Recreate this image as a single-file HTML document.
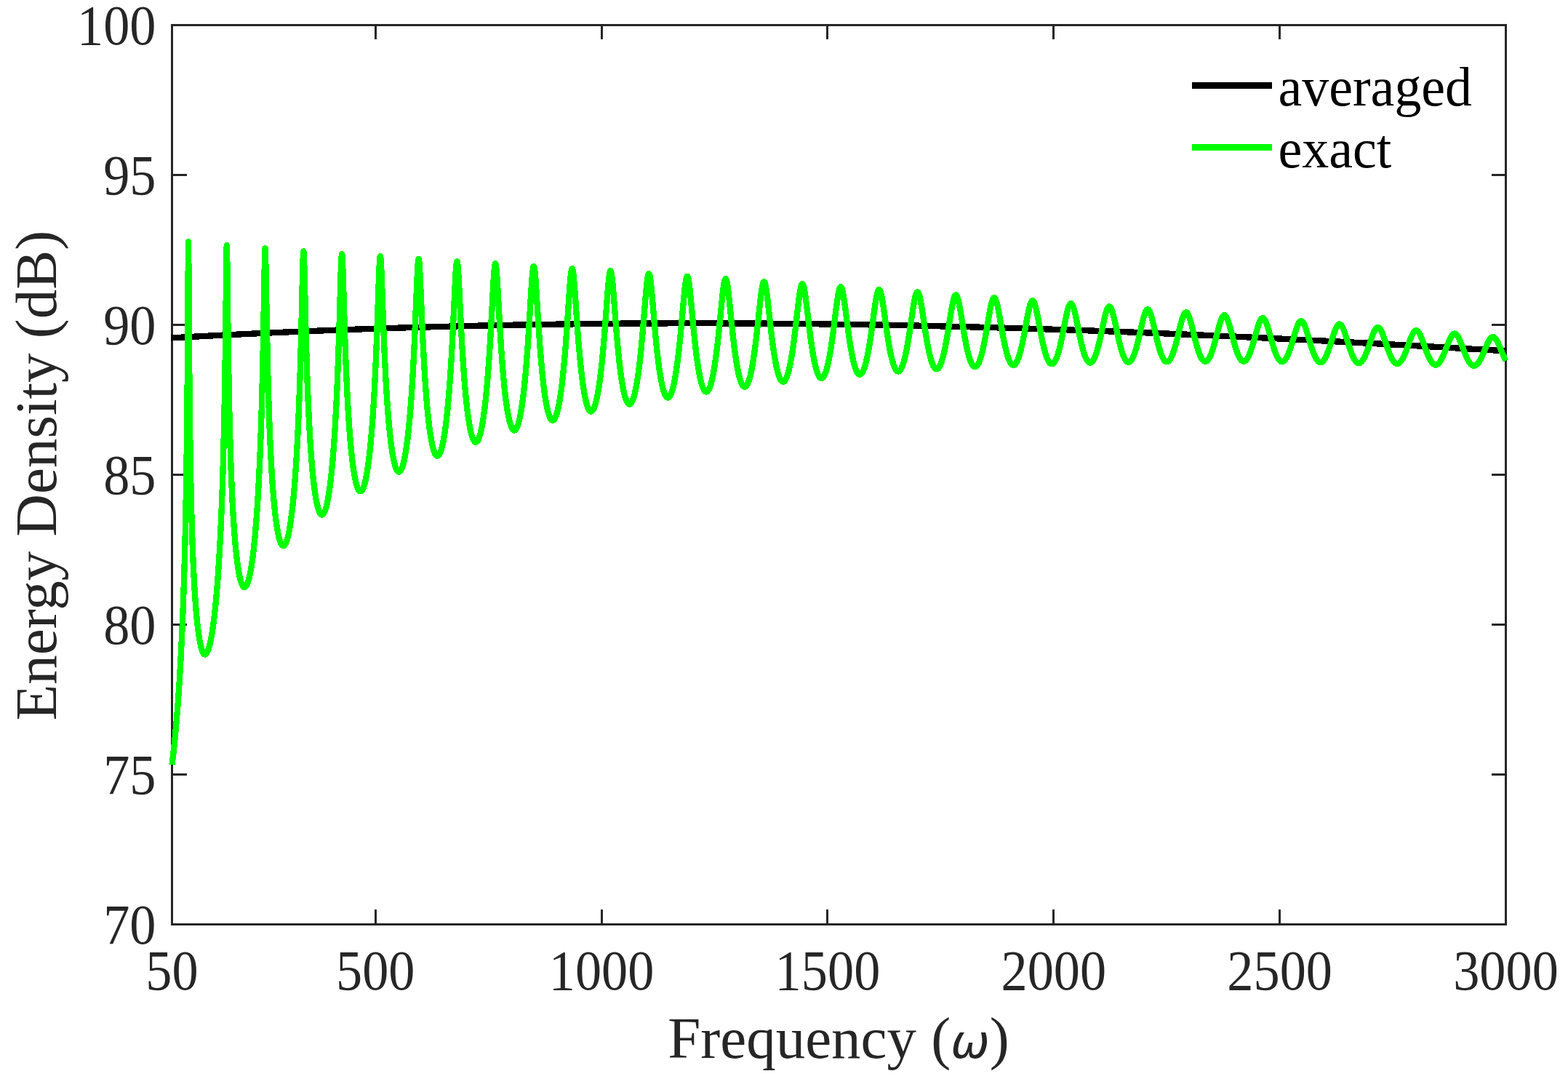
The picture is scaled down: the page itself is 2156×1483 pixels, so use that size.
<!DOCTYPE html>
<html lang="en"><head><meta charset="utf-8"><title>Energy Density vs Frequency</title>
<style>
html,body{margin:0;padding:0;background:#fff;}
body{width:2156px;height:1483px;overflow:hidden;}
svg{display:block;}
text{font-family:"Liberation Serif","DejaVu Serif",serif;}
.tk{font-size:77.8px;fill:#262626;}
.lb{font-size:81.0px;fill:#262626;}
.lg{font-size:76.8px;fill:#000;}
.ax{stroke:#262626;stroke-width:3;fill:none;shape-rendering:crispEdges;}
.cv{fill:none;stroke-linejoin:round;stroke-linecap:butt;shape-rendering:crispEdges;}
</style></head><body>
<svg width="2156" height="1483" viewBox="0 0 2156 1483">
<rect width="2156" height="1483" fill="#fff"/>
<rect class="ax" x="236.5" y="34.5" width="1834.0" height="1236.0"/>
<path class="ax" d="M516.5,1270.5V1250M516.5,34.5V54M827.5,1270.5V1250M827.5,34.5V54M1137.5,1270.5V1250M1137.5,34.5V54M1448.5,1270.5V1250M1448.5,34.5V54M1759.5,1270.5V1250M1759.5,34.5V54M236.5,1064.5H257M2070.5,1064.5H2051M236.5,858.5H257M2070.5,858.5H2051M236.5,652.5H257M2070.5,652.5H2051M236.5,446.5H257M2070.5,446.5H2051M236.5,240.5H257M2070.5,240.5H2051"/>
<path class="cv" d="M235.00,464.46L244.22,463.94L253.45,463.43L262.67,462.93L271.89,462.43L281.12,461.93L290.34,461.45L299.57,460.97L308.79,460.50L318.01,460.03L327.24,459.57L336.46,459.12L345.68,458.68L354.91,458.24L364.13,457.81L373.35,457.38L382.58,456.97L391.80,456.56L401.03,456.15L410.25,455.76L419.47,455.37L428.70,454.98L437.92,454.61L447.14,454.24L456.37,453.88L465.59,453.52L474.81,453.17L484.04,452.83L493.26,452.49L502.48,452.17L511.71,451.84L520.93,451.53L530.16,451.22L539.38,450.92L548.60,450.63L557.83,450.34L567.05,450.06L576.27,449.78L585.50,449.52L594.72,449.26L603.94,449.00L613.17,448.76L622.39,448.52L631.62,448.28L640.84,448.06L650.06,447.84L659.29,447.62L668.51,447.42L677.73,447.22L686.96,447.02L696.18,446.84L705.40,446.66L714.63,446.48L723.85,446.32L733.08,446.16L742.30,446.01L751.52,445.86L760.75,445.72L769.97,445.59L779.19,445.46L788.42,445.34L797.64,445.23L806.86,445.12L816.09,445.02L825.31,444.92L834.54,444.84L843.76,444.76L852.98,444.68L862.21,444.61L871.43,444.55L880.65,444.50L889.88,444.45L899.10,444.41L908.32,444.37L917.55,444.34L926.77,444.32L935.99,444.30L945.22,444.29L954.44,444.29L963.67,444.29L972.89,444.30L982.11,444.32L991.34,444.34L1000.56,444.36L1009.78,444.40L1019.01,444.44L1028.23,444.48L1037.45,444.53L1046.68,444.59L1055.90,444.66L1065.13,444.73L1074.35,444.80L1083.57,444.89L1092.80,444.97L1102.02,445.07L1111.24,445.17L1120.47,445.28L1129.69,445.39L1138.91,445.51L1148.14,445.63L1157.36,445.76L1166.59,445.90L1175.81,446.04L1185.03,446.18L1194.26,446.34L1203.48,446.50L1212.70,446.66L1221.93,446.83L1231.15,447.01L1240.37,447.19L1249.60,447.38L1258.82,447.57L1268.05,447.77L1277.27,447.97L1286.49,448.18L1295.72,448.39L1304.94,448.61L1314.16,448.84L1323.39,449.07L1332.61,449.31L1341.83,449.55L1351.06,449.79L1360.28,450.05L1369.51,450.30L1378.73,450.57L1387.95,450.83L1397.18,451.11L1406.40,451.38L1415.62,451.67L1424.85,451.96L1434.07,452.25L1443.29,452.55L1452.52,452.85L1461.74,453.16L1470.96,453.47L1480.19,453.79L1489.41,454.11L1498.64,454.44L1507.86,454.77L1517.08,455.10L1526.31,455.45L1535.53,455.79L1544.75,456.14L1553.98,456.50L1563.20,456.86L1572.42,457.22L1581.65,457.59L1590.87,457.96L1600.10,458.34L1609.32,458.72L1618.54,459.10L1627.77,459.49L1636.99,459.89L1646.21,460.29L1655.44,460.69L1664.66,461.09L1673.88,461.51L1683.11,461.92L1692.33,462.34L1701.56,462.76L1710.78,463.19L1720.00,463.62L1729.23,464.05L1738.45,464.49L1747.67,464.93L1756.90,465.38L1766.12,465.82L1775.34,466.28L1784.57,466.73L1793.79,467.19L1803.02,467.65L1812.24,468.12L1821.46,468.59L1830.69,469.06L1839.91,469.54L1849.13,470.02L1858.36,470.50L1867.58,470.99L1876.80,471.47L1886.03,471.97L1895.25,472.46L1904.47,472.96L1913.70,473.46L1922.92,473.96L1932.15,474.47L1941.37,474.98L1950.59,475.49L1959.82,476.00L1969.04,476.52L1978.26,477.04L1987.49,477.56L1996.71,478.09L2005.93,478.61L2015.16,479.14L2024.38,479.68L2033.61,480.21L2042.83,480.75L2052.05,481.28L2061.28,481.82L2070.50,482.37" stroke="#000" stroke-width="8.33"/>
<path class="cv" d="M236.50,1051.00L236.81,1048.52L237.12,1045.99L237.43,1043.41L237.74,1040.78L238.05,1038.10L238.37,1035.37L238.68,1032.58L238.99,1029.74L239.30,1026.84L239.61,1023.89L239.92,1020.88L240.23,1017.80L240.54,1014.67L240.85,1011.47L241.16,1008.21L241.47,1004.88L241.78,1001.48L242.10,998.00L242.41,994.46L242.72,990.84L243.03,987.14L243.34,983.37L243.65,979.51L243.96,975.56L244.27,971.53L244.58,967.40L244.89,963.18L245.20,958.85L245.51,954.43L245.83,949.90L246.14,945.25L246.45,940.49L246.76,935.61L247.07,930.60L247.38,925.46L247.69,920.17L248.00,914.75L248.31,909.16L248.62,903.42L248.93,897.50L249.24,891.40L249.56,885.11L249.87,878.61L250.18,871.90L250.49,864.95L250.80,857.76L251.11,850.31L251.42,842.56L251.73,834.51L252.04,826.13L252.35,817.39L252.66,808.25L252.97,798.68L253.29,788.63L253.60,778.06L253.91,766.91L254.22,755.10L254.53,742.56L254.84,729.19L255.15,714.86L255.46,699.42L255.77,682.70L256.08,664.44L256.39,644.35L256.71,622.01L257.02,596.87L257.33,568.16L257.64,534.80L257.95,495.31L258.26,447.90L258.57,392.48L258.86,344.25L258.88,342.07L258.96,335.33L259.01,332.87L259.05,332.17L259.09,332.87L259.14,335.33L259.19,339.40L259.24,344.13L259.50,386.62L259.81,440.37L260.12,486.27L260.44,524.18L260.75,555.85L261.06,582.82L261.37,606.17L261.68,626.68L261.99,644.92L262.30,661.30L262.61,676.14L262.92,689.67L263.23,702.09L263.54,713.54L263.85,724.16L264.17,734.03L264.48,743.24L264.79,751.86L265.10,759.95L265.41,767.56L265.72,774.74L266.03,781.51L266.34,787.92L266.65,794.00L266.96,799.76L267.27,805.23L267.58,810.43L267.90,815.37L268.21,820.08L268.52,824.57L268.83,828.85L269.14,832.93L269.45,836.83L269.76,840.55L270.07,844.10L270.38,847.49L270.69,850.72L271.00,853.81L271.31,856.76L271.63,859.58L271.94,862.27L272.25,864.84L272.56,867.29L272.87,869.62L273.18,871.84L273.49,873.96L273.80,875.97L274.11,877.88L274.42,879.70L274.73,881.42L275.05,883.05L275.36,884.59L275.67,886.05L275.98,887.42L276.29,888.70L276.60,889.91L276.91,891.04L277.22,892.09L277.53,893.06L277.84,893.96L278.15,894.79L278.46,895.55L278.78,896.23L279.09,896.85L279.40,897.40L279.71,897.88L280.02,898.29L280.33,898.64L280.64,898.93L280.95,899.15L281.26,899.30L281.57,899.40L281.88,899.43L282.19,899.38L282.51,899.26L282.82,899.09L283.13,898.86L283.44,898.56L283.75,898.21L284.06,897.80L284.37,897.33L284.68,896.80L284.99,896.21L285.30,895.57L285.61,894.87L285.92,894.10L286.24,893.28L286.55,892.40L286.86,891.46L287.17,890.47L287.48,889.41L287.79,888.30L288.10,887.12L288.41,885.88L288.72,884.59L289.03,883.23L289.34,881.81L289.65,880.33L289.97,878.79L290.28,877.18L290.59,875.51L290.90,873.77L291.21,871.97L291.52,870.10L291.83,868.17L292.14,866.16L292.45,864.09L292.76,861.95L293.07,859.73L293.39,857.44L293.70,855.08L294.01,852.64L294.32,850.12L294.63,847.52L294.94,844.84L295.25,842.08L295.56,839.23L295.87,836.30L296.18,833.27L296.49,830.16L296.80,826.94L297.12,823.63L297.43,820.22L297.74,816.71L298.05,813.08L298.36,809.35L298.67,805.50L298.98,801.53L299.29,797.44L299.60,793.21L299.91,788.86L300.22,784.36L300.53,779.71L300.85,774.91L301.16,769.95L301.47,764.83L301.78,759.52L302.09,754.03L302.40,748.34L302.71,742.44L303.02,736.32L303.33,729.96L303.64,723.35L303.95,716.47L304.26,709.31L304.58,701.84L304.89,694.03L305.20,685.87L305.51,677.31L305.82,668.33L306.13,658.89L306.44,648.93L306.75,638.42L307.06,627.27L307.37,615.43L307.68,602.82L307.99,589.32L308.31,574.82L308.62,559.19L308.93,542.26L309.24,523.83L309.55,503.68L309.86,481.58L310.17,457.33L310.48,430.90L310.79,402.75L311.10,374.61L311.41,350.66L311.63,340.29L311.72,337.96L311.73,337.85L311.77,337.34L311.81,337.17L311.86,337.35L311.91,337.97L312.00,340.30L312.04,341.64L312.35,359.94L312.66,385.68L312.97,413.13L313.28,439.49L313.59,463.80L313.90,485.92L314.21,505.97L314.52,524.19L314.83,540.80L315.14,556.02L315.46,570.02L315.77,582.96L316.08,594.97L316.39,606.14L316.70,616.58L317.01,626.36L317.32,635.55L317.63,644.20L317.94,652.37L318.25,660.09L318.56,667.40L318.87,674.34L319.19,680.94L319.50,687.21L319.81,693.18L320.12,698.88L320.43,704.32L320.74,709.51L321.05,714.48L321.36,719.22L321.67,723.77L321.98,728.12L322.29,732.29L322.60,736.29L322.92,740.12L323.23,743.79L323.54,747.31L323.85,750.69L324.16,753.93L324.47,757.04L324.78,760.02L325.09,762.88L325.40,765.62L325.71,768.24L326.02,770.76L326.33,773.17L326.65,775.48L326.96,777.68L327.27,779.79L327.58,781.81L327.89,783.73L328.20,785.56L328.51,787.31L328.82,788.97L329.13,790.55L329.44,792.04L329.75,793.46L330.07,794.80L330.38,796.06L330.69,797.25L331.00,798.37L331.31,799.41L331.62,800.38L331.93,801.28L332.24,802.11L332.55,802.88L332.86,803.58L333.17,804.21L333.48,804.77L333.80,805.27L334.11,805.71L334.42,806.09L334.73,806.40L335.04,806.64L335.35,806.83L335.66,806.96L335.97,807.02L336.28,807.02L336.59,806.97L336.90,806.85L337.21,806.67L337.53,806.43L337.84,806.13L338.15,805.77L338.46,805.35L338.77,804.88L339.08,804.34L339.39,803.74L339.70,803.08L340.01,802.36L340.32,801.58L340.63,800.74L340.94,799.84L341.26,798.87L341.57,797.85L341.88,796.76L342.19,795.61L342.50,794.39L342.81,793.11L343.12,791.77L343.43,790.36L343.74,788.88L344.05,787.34L344.36,785.73L344.67,784.05L344.99,782.30L345.30,780.48L345.61,778.59L345.92,776.63L346.23,774.59L346.54,772.47L346.85,770.28L347.16,768.01L347.47,765.66L347.78,763.22L348.09,760.70L348.41,758.10L348.72,755.40L349.03,752.62L349.34,749.74L349.65,746.77L349.96,743.69L350.27,740.52L350.58,737.24L350.89,733.85L351.20,730.35L351.51,726.74L351.82,723.00L352.14,719.14L352.45,715.15L352.76,711.03L353.07,706.77L353.38,702.36L353.69,697.79L354.00,693.07L354.31,688.18L354.62,683.11L354.93,677.86L355.24,672.42L355.55,666.77L355.87,660.90L356.18,654.80L356.49,648.46L356.80,641.85L357.11,634.97L357.42,627.79L357.73,620.30L358.04,612.46L358.35,604.25L358.66,595.64L358.97,586.61L359.28,577.10L359.60,567.08L359.91,556.51L360.22,545.32L360.53,533.47L360.84,520.89L361.15,507.51L361.46,493.26L361.77,478.08L362.08,461.92L362.39,444.78L362.70,426.73L363.01,408.03L363.33,389.21L363.64,371.27L363.95,355.87L364.26,345.16L364.39,342.62L364.48,341.57L364.53,341.30L364.57,341.22L364.57,341.22L364.62,341.30L364.67,341.56L364.76,342.60L364.88,344.88L365.19,355.22L365.50,370.15L365.81,387.50L366.12,405.68L366.43,423.71L366.75,441.05L367.06,457.49L367.37,472.94L367.68,487.41L367.99,500.96L368.30,513.64L368.61,525.53L368.92,536.69L369.23,547.19L369.54,557.07L369.85,566.41L370.16,575.23L370.48,583.59L370.79,591.51L371.10,599.05L371.41,606.21L371.72,613.03L372.03,619.53L372.34,625.74L372.65,631.67L372.96,637.35L373.27,642.77L373.58,647.97L373.89,652.95L374.21,657.73L374.52,662.31L374.83,666.71L375.14,670.93L375.45,674.99L375.76,678.88L376.07,682.62L376.38,686.22L376.69,689.68L377.00,693.00L377.31,696.19L377.62,699.26L377.94,702.21L378.25,705.04L378.56,707.76L378.87,710.37L379.18,712.88L379.49,715.29L379.80,717.59L380.11,719.80L380.42,721.92L380.73,723.95L381.04,725.89L381.35,727.74L381.67,729.51L381.98,731.19L382.29,732.79L382.60,734.32L382.91,735.76L383.22,737.14L383.53,738.43L383.84,739.65L384.15,740.81L384.46,741.88L384.77,742.89L385.09,743.83L385.40,744.71L385.71,745.51L386.02,746.25L386.33,746.93L386.64,747.53L386.95,748.08L387.26,748.56L387.57,748.98L387.88,749.33L388.19,749.62L388.50,749.85L388.82,750.02L389.13,750.13L389.44,750.18L389.75,750.16L390.06,750.09L390.37,749.95L390.68,749.76L390.99,749.50L391.30,749.19L391.61,748.81L391.92,748.37L392.23,747.88L392.55,747.32L392.86,746.70L393.17,746.02L393.48,745.28L393.79,744.48L394.10,743.61L394.41,742.68L394.72,741.69L395.03,740.64L395.34,739.52L395.65,738.34L395.96,737.09L396.28,735.78L396.59,734.40L396.90,732.96L397.21,731.44L397.52,729.86L397.83,728.21L398.14,726.48L398.45,724.69L398.76,722.82L399.07,720.87L399.38,718.85L399.69,716.75L400.01,714.57L400.32,712.32L400.63,709.98L400.94,707.55L401.25,705.04L401.56,702.44L401.87,699.75L402.18,696.97L402.49,694.09L402.80,691.11L403.11,688.04L403.43,684.85L403.74,681.57L404.05,678.17L404.36,674.65L404.67,671.02L404.98,667.26L405.29,663.38L405.60,659.36L405.91,655.21L406.22,650.91L406.53,646.47L406.84,641.86L407.16,637.10L407.47,632.16L407.78,627.05L408.09,621.74L408.40,616.24L408.71,610.53L409.02,604.60L409.33,598.44L409.64,592.03L409.95,585.36L410.26,578.42L410.57,571.18L410.89,563.62L411.20,555.73L411.51,547.49L411.82,538.86L412.13,529.82L412.44,520.35L412.75,510.41L413.06,499.99L413.37,489.04L413.68,477.55L413.99,465.51L414.30,452.90L414.62,439.77L414.93,426.17L415.24,412.24L415.55,398.23L415.86,384.49L416.17,371.62L416.48,360.38L416.79,351.70L417.10,346.49L417.15,346.04L417.24,345.46L417.29,345.31L417.34,345.27L417.38,345.31L417.41,345.40L417.43,345.47L417.52,346.04L417.72,348.54L418.03,355.45L418.35,365.30L418.66,377.14L418.97,390.11L419.28,403.56L419.59,417.06L419.90,430.30L420.21,443.13L420.52,455.44L420.83,467.20L421.14,478.40L421.45,489.06L421.77,499.18L422.08,508.80L422.39,517.95L422.70,526.65L423.01,534.93L423.32,542.82L423.63,550.34L423.94,557.52L424.25,564.38L424.56,570.94L424.87,577.21L425.18,583.21L425.50,588.97L425.81,594.49L426.12,599.78L426.43,604.86L426.74,609.73L427.05,614.42L427.36,618.92L427.67,623.25L427.98,627.42L428.29,631.42L428.60,635.28L428.91,638.98L429.23,642.55L429.54,645.98L429.85,649.29L430.16,652.47L430.47,655.53L430.78,658.47L431.09,661.31L431.40,664.03L431.71,666.65L432.02,669.16L432.33,671.58L432.64,673.90L432.96,676.13L433.27,678.27L433.58,680.31L433.89,682.27L434.20,684.15L434.51,685.94L434.82,687.65L435.13,689.29L435.44,690.84L435.75,692.32L436.06,693.72L436.37,695.05L436.69,696.31L437.00,697.50L437.31,698.61L437.62,699.66L437.93,700.64L438.24,701.55L438.55,702.40L438.86,703.18L439.17,703.89L439.48,704.54L439.79,705.13L440.11,705.65L440.42,706.12L440.73,706.51L441.04,706.85L441.35,707.13L441.66,707.35L441.97,707.50L442.28,707.60L442.59,707.63L442.90,707.60L443.21,707.52L443.52,707.37L443.84,707.17L444.15,706.90L444.46,706.58L444.77,706.19L445.08,705.75L445.39,705.24L445.70,704.68L446.01,704.05L446.32,703.36L446.63,702.61L446.94,701.80L447.25,700.93L447.57,700.00L447.88,699.00L448.19,697.94L448.50,696.82L448.81,695.63L449.12,694.37L449.43,693.05L449.74,691.67L450.05,690.21L450.36,688.69L450.67,687.10L450.98,685.43L451.30,683.70L451.61,681.89L451.92,680.01L452.23,678.05L452.54,676.02L452.85,673.91L453.16,671.72L453.47,669.45L453.78,667.09L454.09,664.65L454.40,662.12L454.71,659.50L455.03,656.79L455.34,653.99L455.65,651.09L455.96,648.09L456.27,644.99L456.58,641.79L456.89,638.47L457.20,635.04L457.51,631.50L457.82,627.84L458.13,624.05L458.45,620.14L458.76,616.09L459.07,611.90L459.38,607.57L459.69,603.09L460.00,598.46L460.31,593.66L460.62,588.69L460.93,583.54L461.24,578.20L461.55,572.67L461.86,566.94L462.18,560.99L462.49,554.81L462.80,548.39L463.11,541.73L463.42,534.80L463.73,527.60L464.04,520.10L464.35,512.30L464.66,504.18L464.97,495.73L465.28,486.93L465.59,477.78L465.91,468.26L466.22,458.39L466.53,448.17L466.84,437.63L467.15,426.81L467.46,415.81L467.77,404.73L468.08,393.77L468.39,383.18L468.70,373.29L469.01,364.53L469.32,357.35L469.64,352.25L469.91,349.75L469.95,349.60L470.01,349.39L470.06,349.30L470.10,349.27L470.14,349.30L470.19,349.39L470.26,349.62L470.29,349.76L470.57,352.29L470.88,357.36L471.19,364.43L471.50,373.02L471.81,382.66L472.12,392.95L472.43,403.56L472.74,414.25L473.05,424.86L473.37,435.25L473.68,445.37L473.99,455.16L474.30,464.60L474.61,473.68L474.92,482.39L475.23,490.76L475.54,498.78L475.85,506.47L476.16,513.84L476.47,520.91L476.79,527.69L477.10,534.20L477.41,540.44L477.72,546.44L478.03,552.20L478.34,557.74L478.65,563.06L478.96,568.18L479.27,573.11L479.58,577.85L479.89,582.41L480.20,586.81L480.52,591.04L480.83,595.12L481.14,599.04L481.45,602.83L481.76,606.48L482.07,609.99L482.38,613.38L482.69,616.64L483.00,619.79L483.31,622.82L483.62,625.73L483.93,628.54L484.25,631.25L484.56,633.85L484.87,636.36L485.18,638.77L485.49,641.08L485.80,643.31L486.11,645.44L486.42,647.49L486.73,649.45L487.04,651.33L487.35,653.13L487.66,654.85L487.98,656.49L488.29,658.06L488.60,659.55L488.91,660.97L489.22,662.31L489.53,663.58L489.84,664.79L490.15,665.92L490.46,666.99L490.77,667.98L491.08,668.92L491.39,669.78L491.71,670.58L492.02,671.32L492.33,671.99L492.64,672.60L492.95,673.15L493.26,673.63L493.57,674.06L493.88,674.42L494.19,674.72L494.50,674.96L494.81,675.14L495.13,675.26L495.44,675.32L495.75,675.32L496.06,675.26L496.37,675.15L496.68,674.97L496.99,674.73L497.30,674.43L497.61,674.07L497.92,673.66L498.23,673.18L498.54,672.64L498.86,672.05L499.17,671.39L499.48,670.67L499.79,669.89L500.10,669.05L500.41,668.15L500.72,667.18L501.03,666.15L501.34,665.06L501.65,663.90L501.96,662.68L502.27,661.39L502.59,660.04L502.90,658.62L503.21,657.13L503.52,655.57L503.83,653.95L504.14,652.25L504.45,650.48L504.76,648.63L505.07,646.72L505.38,644.72L505.69,642.65L506.00,640.50L506.32,638.27L506.63,635.96L506.94,633.56L507.25,631.08L507.56,628.51L507.87,625.85L508.18,623.10L508.49,620.25L508.80,617.31L509.11,614.27L509.42,611.12L509.73,607.87L510.05,604.51L510.36,601.03L510.67,597.45L510.98,593.74L511.29,589.90L511.60,585.94L511.91,581.85L512.22,577.62L512.53,573.25L512.84,568.73L513.15,564.05L513.47,559.22L513.78,554.22L514.09,549.04L514.40,543.69L514.71,538.15L515.02,532.41L515.33,526.47L515.64,520.32L515.95,513.95L516.26,507.35L516.57,500.51L516.88,493.43L517.20,486.11L517.51,478.52L517.82,470.68L518.13,462.59L518.44,454.24L518.75,445.66L519.06,436.86L519.37,427.88L519.68,418.78L519.99,409.61L520.30,400.49L520.61,391.55L520.93,382.95L521.24,374.92L521.55,367.71L521.86,361.58L522.17,356.82L522.48,353.68L522.68,352.61L522.77,352.35L522.79,352.32L522.82,352.29L522.86,352.27L522.91,352.29L522.96,352.35L523.05,352.61L523.10,352.82L523.41,355.15L523.72,359.14L524.03,364.58L524.34,371.19L524.66,378.69L524.97,386.83L525.28,395.37L525.59,404.13L525.90,412.98L526.21,421.79L526.52,430.49L526.83,439.02L527.14,447.35L527.45,455.45L527.76,463.29L528.07,470.89L528.39,478.22L528.70,485.30L529.01,492.13L529.32,498.72L529.63,505.06L529.94,511.18L530.25,517.07L530.56,522.76L530.87,528.23L531.18,533.51L531.49,538.60L531.81,543.50L532.12,548.23L532.43,552.80L532.74,557.20L533.05,561.44L533.36,565.54L533.67,569.49L533.98,573.31L534.29,576.99L534.60,580.54L534.91,583.96L535.22,587.27L535.54,590.46L535.85,593.53L536.16,596.50L536.47,599.36L536.78,602.11L537.09,604.77L537.40,607.33L537.71,609.79L538.02,612.16L538.33,614.44L538.64,616.63L538.95,618.74L539.27,620.76L539.58,622.70L539.89,624.56L540.20,626.34L540.51,628.04L540.82,629.67L541.13,631.22L541.44,632.70L541.75,634.10L542.06,635.44L542.37,636.70L542.68,637.90L543.00,639.03L543.31,640.09L543.62,641.09L543.93,642.02L544.24,642.88L544.55,643.69L544.86,644.43L545.17,645.10L545.48,645.72L545.79,646.27L546.10,646.76L546.41,647.19L546.73,647.56L547.04,647.87L547.35,648.12L547.66,648.31L547.97,648.44L548.28,648.51L548.59,648.53L548.90,648.48L549.21,648.38L549.52,648.21L549.83,647.99L550.15,647.71L550.46,647.37L550.77,646.97L551.08,646.51L551.39,646.00L551.70,645.42L552.01,644.78L552.32,644.08L552.63,643.33L552.94,642.51L553.25,641.63L553.56,640.69L553.88,639.68L554.19,638.61L554.50,637.48L554.81,636.29L555.12,635.03L555.43,633.71L555.74,632.32L556.05,630.86L556.36,629.33L556.67,627.74L556.98,626.08L557.29,624.34L557.61,622.54L557.92,620.66L558.23,618.70L558.54,616.67L558.85,614.56L559.16,612.38L559.47,610.11L559.78,607.76L560.09,605.33L560.40,602.81L560.71,600.21L561.02,597.51L561.34,594.72L561.65,591.84L561.96,588.87L562.27,585.79L562.58,582.61L562.89,579.33L563.20,575.94L563.51,572.44L563.82,568.82L564.13,565.09L564.44,561.23L564.75,557.25L565.07,553.14L565.38,548.90L565.69,544.52L566.00,540.00L566.31,535.33L566.62,530.51L566.93,525.53L567.24,520.39L567.55,515.08L567.86,509.60L568.17,503.94L568.49,498.10L568.80,492.08L569.11,485.86L569.42,479.46L569.73,472.86L570.04,466.07L570.35,459.09L570.66,451.93L570.97,444.60L571.28,437.12L571.59,429.51L571.90,421.81L572.22,414.07L572.53,406.34L572.84,398.70L573.15,391.25L573.46,384.12L573.77,377.44L574.08,371.37L574.39,366.09L574.70,361.77L575.01,358.56L575.32,356.60L575.44,356.22L575.53,356.03L575.58,355.98L575.62,355.97L575.63,355.97L575.67,355.98L575.72,356.03L575.81,356.21L575.95,356.69L576.26,358.73L576.57,361.98L576.88,366.31L577.19,371.55L577.50,377.53L577.81,384.09L578.12,391.05L578.43,398.30L578.74,405.71L579.05,413.20L579.36,420.68L579.68,428.10L579.99,435.42L580.30,442.60L580.61,449.63L580.92,456.48L581.23,463.16L581.54,469.64L581.85,475.93L582.16,482.02L582.47,487.93L582.78,493.64L583.09,499.18L583.41,504.53L583.72,509.70L584.03,514.71L584.34,519.55L584.65,524.23L584.96,528.75L585.27,533.12L585.58,537.35L585.89,541.43L586.20,545.38L586.51,549.20L586.83,552.89L587.14,556.45L587.45,559.90L587.76,563.23L588.07,566.44L588.38,569.54L588.69,572.54L589.00,575.44L589.31,578.23L589.62,580.92L589.93,583.52L590.24,586.03L590.56,588.44L590.87,590.77L591.18,593.00L591.49,595.16L591.80,597.23L592.11,599.22L592.42,601.13L592.73,602.96L593.04,604.71L593.35,606.39L593.66,607.99L593.97,609.53L594.29,610.99L594.60,612.38L594.91,613.70L595.22,614.95L595.53,616.14L595.84,617.25L596.15,618.31L596.46,619.30L596.77,620.22L597.08,621.08L597.39,621.88L597.70,622.61L598.02,623.28L598.33,623.90L598.64,624.45L598.95,624.94L599.26,625.37L599.57,625.74L599.88,626.05L600.19,626.30L600.50,626.50L600.81,626.63L601.12,626.71L601.43,626.73L601.75,626.69L602.06,626.59L602.37,626.43L602.68,626.22L602.99,625.95L603.30,625.62L603.61,625.23L603.92,624.78L604.23,624.27L604.54,623.70L604.85,623.08L605.17,622.39L605.48,621.65L605.79,620.84L606.10,619.98L606.41,619.05L606.72,618.06L607.03,617.01L607.34,615.90L607.65,614.73L607.96,613.49L608.27,612.18L608.58,610.81L608.90,609.38L609.21,607.88L609.52,606.31L609.83,604.67L610.14,602.96L610.45,601.18L610.76,599.33L611.07,597.41L611.38,595.41L611.69,593.33L612.00,591.18L612.31,588.96L612.63,586.65L612.94,584.26L613.25,581.78L613.56,579.22L613.87,576.58L614.18,573.85L614.49,571.02L614.80,568.10L615.11,565.09L615.42,561.98L615.73,558.77L616.04,555.46L616.36,552.04L616.67,548.51L616.98,544.88L617.29,541.13L617.60,537.26L617.91,533.27L618.22,529.16L618.53,524.92L618.84,520.55L619.15,516.05L619.46,511.42L619.77,506.64L620.09,501.72L620.40,496.65L620.71,491.44L621.02,486.07L621.33,480.56L621.64,474.89L621.95,469.07L622.26,463.10L622.57,456.99L622.88,450.74L623.19,444.36L623.51,437.87L623.82,431.28L624.13,424.62L624.44,417.92L624.75,411.22L625.06,404.57L625.37,398.03L625.68,391.68L625.99,385.60L626.30,379.89L626.61,374.65L626.92,370.01L627.24,366.07L627.55,362.96L627.86,360.75L628.17,359.52L628.20,359.46L628.29,359.32L628.34,359.28L628.39,359.27L628.43,359.28L628.48,359.32L628.57,359.45L628.79,360.13L629.10,361.94L629.41,364.67L629.72,368.24L630.03,372.53L630.34,377.44L630.65,382.84L630.97,388.64L631.28,394.72L631.59,400.99L631.90,407.40L632.21,413.86L632.52,420.33L632.83,426.77L633.14,433.15L633.45,439.43L633.76,445.60L634.07,451.64L634.38,457.55L634.70,463.31L635.01,468.93L635.32,474.40L635.63,479.71L635.94,484.87L636.25,489.88L636.56,494.75L636.87,499.46L637.18,504.04L637.49,508.47L637.80,512.77L638.11,516.93L638.43,520.96L638.74,524.87L639.05,528.65L639.36,532.31L639.67,535.85L639.98,539.28L640.29,542.60L640.60,545.81L640.91,548.91L641.22,551.92L641.53,554.82L641.85,557.62L642.16,560.33L642.47,562.94L642.78,565.47L643.09,567.90L643.40,570.25L643.71,572.51L644.02,574.69L644.33,576.79L644.64,578.81L644.95,580.75L645.26,582.62L645.58,584.40L645.89,586.12L646.20,587.76L646.51,589.33L646.82,590.83L647.13,592.26L647.44,593.62L647.75,594.91L648.06,596.14L648.37,597.30L648.68,598.39L648.99,599.43L649.31,600.39L649.62,601.30L649.93,602.14L650.24,602.93L650.55,603.65L650.86,604.31L651.17,604.91L651.48,605.45L651.79,605.93L652.10,606.35L652.41,606.71L652.72,607.02L653.04,607.27L653.35,607.46L653.66,607.59L653.97,607.66L654.28,607.68L654.59,607.64L654.90,607.54L655.21,607.38L655.52,607.17L655.83,606.90L656.14,606.57L656.45,606.19L656.77,605.75L657.08,605.25L657.39,604.69L657.70,604.07L658.01,603.39L658.32,602.66L658.63,601.86L658.94,601.01L659.25,600.10L659.56,599.12L659.87,598.09L660.19,596.99L660.50,595.83L660.81,594.61L661.12,593.33L661.43,591.98L661.74,590.57L662.05,589.09L662.36,587.54L662.67,585.93L662.98,584.25L663.29,582.50L663.60,580.68L663.92,578.79L664.23,576.83L664.54,574.79L664.85,572.68L665.16,570.49L665.47,568.23L665.78,565.89L666.09,563.46L666.40,560.96L666.71,558.37L667.02,555.70L667.33,552.94L667.65,550.09L667.96,547.15L668.27,544.11L668.58,540.99L668.89,537.76L669.20,534.44L669.51,531.02L669.82,527.49L670.13,523.86L670.44,520.12L670.75,516.27L671.06,512.31L671.38,508.23L671.69,504.04L672.00,499.72L672.31,495.29L672.62,490.74L672.93,486.06L673.24,481.26L673.55,476.33L673.86,471.28L674.17,466.11L674.48,460.82L674.79,455.42L675.11,449.90L675.42,444.29L675.73,438.59L676.04,432.81L676.35,426.97L676.66,421.10L676.97,415.22L677.28,409.37L677.59,403.58L677.90,397.91L678.21,392.40L678.53,387.13L678.84,382.17L679.15,377.58L679.46,373.46L679.77,369.87L680.08,366.91L680.39,364.63L680.70,363.10L680.96,362.41L681.01,362.35L681.05,362.31L681.10,362.28L681.15,362.27L681.19,362.28L681.24,362.31L681.32,362.40L681.33,362.41L681.63,363.25L681.94,364.87L682.26,367.21L682.57,370.22L682.88,373.82L683.19,377.93L683.50,382.47L683.81,387.36L684.12,392.53L684.43,397.90L684.74,403.43L685.05,409.05L685.36,414.72L685.67,420.40L685.99,426.07L686.30,431.69L686.61,437.24L686.92,442.72L687.23,448.10L687.54,453.37L687.85,458.54L688.16,463.59L688.47,468.52L688.78,473.32L689.09,478.01L689.40,482.57L689.72,487.00L690.03,491.31L690.34,495.51L690.65,499.58L690.96,503.53L691.27,507.37L691.58,511.10L691.89,514.71L692.20,518.21L692.51,521.61L692.82,524.91L693.13,528.10L693.45,531.19L693.76,534.18L694.07,537.08L694.38,539.88L694.69,542.59L695.00,545.22L695.31,547.75L695.62,550.20L695.93,552.56L696.24,554.84L696.55,557.05L696.87,559.17L697.18,561.21L697.49,563.18L697.80,565.07L698.11,566.89L698.42,568.63L698.73,570.31L699.04,571.91L699.35,573.44L699.66,574.91L699.97,576.31L700.28,577.64L700.60,578.90L700.91,580.11L701.22,581.24L701.53,582.32L701.84,583.33L702.15,584.28L702.46,585.17L702.77,585.99L703.08,586.76L703.39,587.47L703.70,588.12L704.01,588.71L704.33,589.24L704.64,589.71L704.95,590.12L705.26,590.48L705.57,590.78L705.88,591.02L706.19,591.21L706.50,591.34L706.81,591.41L707.12,591.43L707.43,591.39L707.74,591.29L708.06,591.14L708.37,590.93L708.68,590.66L708.99,590.34L709.30,589.96L709.61,589.53L709.92,589.03L710.23,588.49L710.54,587.88L710.85,587.21L711.16,586.49L711.47,585.71L711.79,584.87L712.10,583.97L712.41,583.02L712.72,582.00L713.03,580.92L713.34,579.78L713.65,578.58L713.96,577.32L714.27,576.00L714.58,574.61L714.89,573.16L715.21,571.64L715.52,570.06L715.83,568.41L716.14,566.70L716.45,564.92L716.76,563.06L717.07,561.14L717.38,559.15L717.69,557.08L718.00,554.95L718.31,552.73L718.62,550.45L718.94,548.08L719.25,545.64L719.56,543.11L719.87,540.51L720.18,537.82L720.49,535.05L720.80,532.19L721.11,529.25L721.42,526.22L721.73,523.10L722.04,519.88L722.35,516.57L722.67,513.17L722.98,509.67L723.29,506.07L723.60,502.38L723.91,498.58L724.22,494.68L724.53,490.68L724.84,486.57L725.15,482.36L725.46,478.05L725.77,473.63L726.08,469.11L726.40,464.49L726.71,459.78L727.02,454.97L727.33,450.07L727.64,445.09L727.95,440.04L728.26,434.93L728.57,429.77L728.88,424.58L729.19,419.37L729.50,414.18L729.81,409.03L730.13,403.95L730.44,398.98L730.75,394.16L731.06,389.55L731.37,385.19L731.68,381.13L731.99,377.44L732.30,374.18L732.61,371.40L732.92,369.14L733.23,367.47L733.55,366.41L733.72,366.09L733.82,366.00L733.86,365.98L733.87,365.98L733.91,365.97L733.95,365.98L734.00,366.00L734.10,366.09L734.17,366.19L734.48,367.04L734.79,368.50L735.10,370.54L735.41,373.11L735.72,376.17L736.03,379.67L736.34,383.53L736.65,387.70L736.96,392.13L737.28,396.77L737.59,401.56L737.90,406.47L738.21,411.45L738.52,416.47L738.83,421.51L739.14,426.54L739.45,431.53L739.76,436.48L740.07,441.37L740.38,446.19L740.69,450.93L741.01,455.58L741.32,460.14L741.63,464.60L741.94,468.96L742.25,473.22L742.56,477.38L742.87,481.43L743.18,485.38L743.49,489.22L743.80,492.97L744.11,496.61L744.42,500.15L744.74,503.59L745.05,506.93L745.36,510.18L745.67,513.33L745.98,516.38L746.29,519.35L746.60,522.23L746.91,525.01L747.22,527.71L747.53,530.33L747.84,532.86L748.15,535.30L748.47,537.67L748.78,539.96L749.09,542.17L749.40,544.30L749.71,546.36L750.02,548.34L750.33,550.25L750.64,552.08L750.95,553.85L751.26,555.55L751.57,557.18L751.89,558.74L752.20,560.23L752.51,561.66L752.82,563.02L753.13,564.31L753.44,565.55L753.75,566.72L754.06,567.83L754.37,568.87L754.68,569.86L754.99,570.79L755.30,571.65L755.62,572.46L755.93,573.21L756.24,573.90L756.55,574.53L756.86,575.10L757.17,575.62L757.48,576.08L757.79,576.48L758.10,576.83L758.41,577.12L758.72,577.35L759.03,577.53L759.35,577.65L759.66,577.72L759.97,577.73L760.28,577.68L760.59,577.58L760.90,577.43L761.21,577.22L761.52,576.95L761.83,576.63L762.14,576.25L762.45,575.82L762.76,575.33L763.08,574.79L763.39,574.19L763.70,573.53L764.01,572.81L764.32,572.04L764.63,571.21L764.94,570.32L765.25,569.38L765.56,568.37L765.87,567.31L766.18,566.19L766.49,565.01L766.81,563.76L767.12,562.46L767.43,561.09L767.74,559.66L768.05,558.17L768.36,556.62L768.67,555.00L768.98,553.31L769.29,551.56L769.60,549.75L769.91,547.86L770.23,545.91L770.54,543.88L770.85,541.79L771.16,539.63L771.47,537.39L771.78,535.08L772.09,532.69L772.40,530.23L772.71,527.69L773.02,525.07L773.33,522.38L773.64,519.60L773.96,516.75L774.27,513.81L774.58,510.78L774.89,507.67L775.20,504.48L775.51,501.20L775.82,497.83L776.13,494.37L776.44,490.83L776.75,487.19L777.06,483.47L777.37,479.65L777.69,475.75L778.00,471.76L778.31,467.68L778.62,463.52L778.93,459.27L779.24,454.95L779.55,450.55L779.86,446.09L780.17,441.56L780.48,436.99L780.79,432.37L781.10,427.72L781.42,423.05L781.73,418.39L782.04,413.75L782.35,409.16L782.66,404.64L782.97,400.22L783.28,395.94L783.59,391.83L783.90,387.94L784.21,384.30L784.52,380.96L784.83,377.95L785.15,375.34L785.46,373.15L785.77,371.41L786.08,370.17L786.39,369.43L786.48,369.31L786.58,369.24L786.63,369.23L786.67,369.22L786.70,369.22L786.71,369.23L786.76,369.24L786.86,369.31L787.01,369.53L787.32,370.36L787.63,371.69L787.94,373.50L788.25,375.75L788.57,378.40L788.88,381.42L789.19,384.76L789.50,388.38L789.81,392.23L790.12,396.27L790.43,400.47L790.74,404.79L791.05,409.20L791.36,413.66L791.67,418.16L791.98,422.68L792.30,427.18L792.61,431.67L792.92,436.12L793.23,440.52L793.54,444.87L793.85,449.15L794.16,453.36L794.47,457.49L794.78,461.55L795.09,465.52L795.40,469.41L795.71,473.21L796.03,476.92L796.34,480.54L796.65,484.07L796.96,487.52L797.27,490.87L797.58,494.14L797.89,497.31L798.20,500.40L798.51,503.41L798.82,506.33L799.13,509.16L799.44,511.92L799.76,514.59L800.07,517.18L800.38,519.69L800.69,522.12L801.00,524.48L801.31,526.76L801.62,528.96L801.93,531.09L802.24,533.15L802.55,535.14L802.86,537.05L803.17,538.90L803.49,540.68L803.80,542.39L804.11,544.03L804.42,545.61L804.73,547.12L805.04,548.57L805.35,549.95L805.66,551.27L805.97,552.53L806.28,553.73L806.59,554.87L806.91,555.94L807.22,556.96L807.53,557.92L807.84,558.82L808.15,559.66L808.46,560.44L808.77,561.16L809.08,561.83L809.39,562.45L809.70,563.00L810.01,563.50L810.32,563.95L810.64,564.34L810.95,564.67L811.26,564.95L811.57,565.17L811.88,565.34L812.19,565.46L812.50,565.52L812.81,565.53L813.12,565.48L813.43,565.38L813.74,565.22L814.05,565.01L814.37,564.75L814.68,564.43L814.99,564.05L815.30,563.62L815.61,563.14L815.92,562.60L816.23,562.01L816.54,561.36L816.85,560.66L817.16,559.90L817.47,559.08L817.78,558.21L818.10,557.28L818.41,556.30L818.72,555.25L819.03,554.15L819.34,552.99L819.65,551.77L819.96,550.49L820.27,549.15L820.58,547.75L820.89,546.29L821.20,544.77L821.51,543.19L821.83,541.54L822.14,539.83L822.45,538.05L822.76,536.21L823.07,534.30L823.38,532.33L823.69,530.29L824.00,528.18L824.31,526.00L824.62,523.76L824.93,521.44L825.25,519.05L825.56,516.58L825.87,514.05L826.18,511.44L826.49,508.75L826.80,505.99L827.11,503.15L827.42,500.23L827.73,497.24L828.04,494.17L828.35,491.02L828.66,487.79L828.98,484.48L829.29,481.10L829.60,477.63L829.91,474.09L830.22,470.47L830.53,466.77L830.84,463.00L831.15,459.16L831.46,455.26L831.77,451.28L832.08,447.25L832.39,443.17L832.71,439.04L833.02,434.87L833.33,430.67L833.64,426.45L833.95,422.23L834.26,418.02L834.57,413.84L834.88,409.70L835.19,405.64L835.50,401.66L835.81,397.81L836.12,394.11L836.44,390.58L836.75,387.27L837.06,384.21L837.37,381.43L837.68,378.96L837.99,376.84L838.30,375.09L838.61,373.74L838.92,372.81L839.23,372.31L839.24,372.30L839.34,372.24L839.39,372.22L839.43,372.22L839.47,372.22L839.52,372.24L839.54,372.25L839.62,372.30L839.85,372.63L840.17,373.44L840.48,374.67L840.79,376.30L841.10,378.30L841.41,380.65L841.72,383.32L842.03,386.26L842.34,389.45L842.65,392.85L842.96,396.43L843.27,400.16L843.59,404.02L843.90,407.96L844.21,411.97L844.52,416.04L844.83,420.12L845.14,424.22L845.45,428.32L845.76,432.39L846.07,436.44L846.38,440.45L846.69,444.41L847.00,448.32L847.32,452.17L847.63,455.95L847.94,459.67L848.25,463.32L848.56,466.89L848.87,470.39L849.18,473.81L849.49,477.15L849.80,480.42L850.11,483.60L850.42,486.71L850.73,489.74L851.05,492.69L851.36,495.56L851.67,498.35L851.98,501.07L852.29,503.71L852.60,506.28L852.91,508.77L853.22,511.18L853.53,513.52L853.84,515.79L854.15,517.99L854.46,520.12L854.78,522.18L855.09,524.17L855.40,526.09L855.71,527.95L856.02,529.73L856.33,531.46L856.64,533.11L856.95,534.71L857.26,536.24L857.57,537.70L857.88,539.11L858.19,540.45L858.51,541.73L858.82,542.96L859.13,544.12L859.44,545.22L859.75,546.27L860.06,547.26L860.37,548.19L860.68,549.06L860.99,549.88L861.30,550.64L861.61,551.34L861.93,551.99L862.24,552.58L862.55,553.12L862.86,553.60L863.17,554.03L863.48,554.40L863.79,554.73L864.10,554.99L864.41,555.21L864.72,555.36L865.03,555.47L865.34,555.52L865.66,555.52L865.97,555.47L866.28,555.36L866.59,555.20L866.90,554.99L867.21,554.72L867.52,554.40L867.83,554.03L868.14,553.60L868.45,553.12L868.76,552.59L869.07,552.00L869.39,551.36L869.70,550.66L870.01,549.91L870.32,549.11L870.63,548.24L870.94,547.33L871.25,546.36L871.56,545.33L871.87,544.24L872.18,543.10L872.49,541.90L872.80,540.64L873.12,539.33L873.43,537.96L873.74,536.52L874.05,535.03L874.36,533.48L874.67,531.87L874.98,530.19L875.29,528.45L875.60,526.66L875.91,524.79L876.22,522.87L876.53,520.88L876.85,518.82L877.16,516.70L877.47,514.52L877.78,512.26L878.09,509.94L878.40,507.56L878.71,505.10L879.02,502.57L879.33,499.98L879.64,497.31L879.95,494.58L880.27,491.77L880.58,488.90L880.89,485.95L881.20,482.94L881.51,479.85L881.82,476.70L882.13,473.47L882.44,470.18L882.75,466.82L883.06,463.40L883.37,459.92L883.68,456.38L884.00,452.78L884.31,449.13L884.62,445.43L884.93,441.69L885.24,437.92L885.55,434.12L885.86,430.30L886.17,426.48L886.48,422.65L886.79,418.85L887.10,415.07L887.41,411.34L887.73,407.68L888.04,404.10L888.35,400.63L888.66,397.29L888.97,394.10L889.28,391.10L889.59,388.30L889.90,385.73L890.21,383.43L890.52,381.40L890.83,379.69L891.14,378.30L891.46,377.26L891.77,376.57L892.00,376.30L892.08,376.25L892.10,376.25L892.15,376.23L892.19,376.23L892.23,376.23L892.28,376.25L892.38,376.30L892.39,376.31L892.70,376.72L893.01,377.51L893.32,378.64L893.63,380.11L893.94,381.89L894.25,383.97L894.56,386.31L894.87,388.91L895.19,391.72L895.50,394.72L895.81,397.88L896.12,401.19L896.43,404.61L896.74,408.13L897.05,411.72L897.36,415.37L897.67,419.05L897.98,422.75L898.29,426.47L898.61,430.18L898.92,433.88L899.23,437.55L899.54,441.19L899.85,444.79L900.16,448.35L900.47,451.86L900.78,455.31L901.09,458.71L901.40,462.05L901.71,465.32L902.02,468.53L902.34,471.67L902.65,474.74L902.96,477.74L903.27,480.68L903.58,483.54L903.89,486.34L904.20,489.06L904.51,491.72L904.82,494.30L905.13,496.81L905.44,499.26L905.75,501.64L906.07,503.94L906.38,506.18L906.69,508.36L907.00,510.46L907.31,512.50L907.62,514.48L907.93,516.39L908.24,518.23L908.55,520.02L908.86,521.73L909.17,523.39L909.48,524.99L909.80,526.52L910.11,527.99L910.42,529.41L910.73,530.76L911.04,532.05L911.35,533.29L911.66,534.47L911.97,535.59L912.28,536.66L912.59,537.66L912.90,538.62L913.21,539.51L913.53,540.35L913.84,541.14L914.15,541.87L914.46,542.55L914.77,543.17L915.08,543.74L915.39,544.26L915.70,544.72L916.01,545.13L916.32,545.49L916.63,545.79L916.95,546.04L917.26,546.24L917.57,546.39L917.88,546.48L918.19,546.53L918.50,546.52L918.81,546.46L919.12,546.35L919.43,546.18L919.74,545.96L920.05,545.70L920.36,545.37L920.68,545.00L920.99,544.58L921.30,544.10L921.61,543.57L921.92,542.99L922.23,542.35L922.54,541.66L922.85,540.92L923.16,540.13L923.47,539.28L923.78,538.38L924.09,537.42L924.41,536.41L924.72,535.34L925.03,534.22L925.34,533.04L925.65,531.81L925.96,530.52L926.27,529.17L926.58,527.77L926.89,526.31L927.20,524.79L927.51,523.22L927.82,521.58L928.14,519.89L928.45,518.13L928.76,516.32L929.07,514.45L929.38,512.51L929.69,510.51L930.00,508.45L930.31,506.33L930.62,504.15L930.93,501.90L931.24,499.59L931.55,497.22L931.87,494.78L932.18,492.28L932.49,489.72L932.80,487.09L933.11,484.40L933.42,481.64L933.73,478.82L934.04,475.94L934.35,473.00L934.66,470.00L934.97,466.94L935.29,463.82L935.60,460.65L935.91,457.43L936.22,454.15L936.53,450.83L936.84,447.47L937.15,444.06L937.46,440.63L937.77,437.17L938.08,433.69L938.39,430.20L938.70,426.71L939.02,423.23L939.33,419.76L939.64,416.33L939.95,412.94L940.26,409.61L940.57,406.36L940.88,403.21L941.19,400.17L941.50,397.26L941.81,394.51L942.12,391.93L942.43,389.55L942.75,387.38L943.06,385.45L943.37,383.78L943.68,382.38L943.99,381.27L944.30,380.46L944.61,379.96L944.76,379.83L944.86,379.78L944.91,379.77L944.92,379.77L944.95,379.77L944.99,379.77L945.04,379.78L945.14,379.83L945.23,379.90L945.54,380.34L945.85,381.09L946.16,382.14L946.48,383.47L946.79,385.08L947.10,386.94L947.41,389.03L947.72,391.34L948.03,393.84L948.34,396.51L948.65,399.33L948.96,402.29L949.27,405.35L949.58,408.51L949.89,411.74L950.21,415.04L950.52,418.37L950.83,421.74L951.14,425.12L951.45,428.51L951.76,431.90L952.07,435.27L952.38,438.62L952.69,441.95L953.00,445.25L953.31,448.50L953.63,451.72L953.94,454.88L954.25,458.00L954.56,461.06L954.87,464.07L955.18,467.02L955.49,469.92L955.80,472.75L956.11,475.52L956.42,478.23L956.73,480.88L957.04,483.46L957.36,485.98L957.67,488.44L957.98,490.83L958.29,493.16L958.60,495.43L958.91,497.63L959.22,499.77L959.53,501.85L959.84,503.87L960.15,505.82L960.46,507.71L960.77,509.54L961.09,511.31L961.40,513.02L961.71,514.68L962.02,516.27L962.33,517.80L962.64,519.28L962.95,520.69L963.26,522.05L963.57,523.36L963.88,524.60L964.19,525.79L964.50,526.93L964.82,528.01L965.13,529.03L965.44,530.01L965.75,530.92L966.06,531.78L966.37,532.59L966.68,533.35L966.99,534.05L967.30,534.70L967.61,535.30L967.92,535.85L968.23,536.34L968.55,536.78L968.86,537.17L969.17,537.51L969.48,537.80L969.79,538.04L970.10,538.23L970.41,538.36L970.72,538.45L971.03,538.48L971.34,538.46L971.65,538.40L971.97,538.28L972.28,538.11L972.59,537.89L972.90,537.62L973.21,537.30L973.52,536.93L973.83,536.51L974.14,536.03L974.45,535.51L974.76,534.93L975.07,534.31L975.38,533.63L975.70,532.90L976.01,532.12L976.32,531.28L976.63,530.40L976.94,529.46L977.25,528.47L977.56,527.42L977.87,526.32L978.18,525.17L978.49,523.97L978.80,522.71L979.11,521.39L979.43,520.02L979.74,518.60L980.05,517.12L980.36,515.58L980.67,513.99L980.98,512.34L981.29,510.64L981.60,508.88L981.91,507.06L982.22,505.18L982.53,503.25L982.84,501.26L983.16,499.21L983.47,497.10L983.78,494.93L984.09,492.70L984.40,490.42L984.71,488.07L985.02,485.67L985.33,483.21L985.64,480.70L985.95,478.12L986.26,475.49L986.57,472.81L986.89,470.07L987.20,467.27L987.51,464.43L987.82,461.53L988.13,458.59L988.44,455.60L988.75,452.57L989.06,449.50L989.37,446.40L989.68,443.26L989.99,440.10L990.31,436.92L990.62,433.73L990.93,430.53L991.24,427.33L991.55,424.14L991.86,420.98L992.17,417.84L992.48,414.75L992.79,411.71L993.10,408.74L993.41,405.86L993.72,403.08L994.04,400.41L994.35,397.87L994.66,395.49L994.97,393.27L995.28,391.23L995.59,389.40L995.90,387.78L996.21,386.39L996.52,385.24L996.83,384.35L997.14,383.72L997.45,383.36L997.52,383.32L997.62,383.28L997.67,383.27L997.71,383.27L997.75,383.27L997.77,383.27L997.80,383.28L997.90,383.32L998.08,383.46L998.39,383.91L998.70,384.63L999.01,385.61L999.32,386.83L999.63,388.29L999.94,389.97L1000.25,391.86L1000.56,393.93L1000.87,396.18L1001.18,398.58L1001.50,401.13L1001.81,403.79L1002.12,406.55L1002.43,409.41L1002.74,412.34L1003.05,415.33L1003.36,418.37L1003.67,421.44L1003.98,424.54L1004.29,427.65L1004.60,430.76L1004.91,433.87L1005.23,436.97L1005.54,440.06L1005.85,443.12L1006.16,446.14L1006.47,449.14L1006.78,452.10L1007.09,455.02L1007.40,457.89L1007.71,460.72L1008.02,463.49L1008.33,466.22L1008.65,468.90L1008.96,471.52L1009.27,474.08L1009.58,476.59L1009.89,479.04L1010.20,481.44L1010.51,483.78L1010.82,486.06L1011.13,488.28L1011.44,490.44L1011.75,492.54L1012.06,494.59L1012.38,496.58L1012.69,498.51L1013.00,500.38L1013.31,502.20L1013.62,503.95L1013.93,505.65L1014.24,507.30L1014.55,508.88L1014.86,510.41L1015.17,511.89L1015.48,513.31L1015.79,514.67L1016.11,515.98L1016.42,517.24L1016.73,518.44L1017.04,519.58L1017.35,520.68L1017.66,521.72L1017.97,522.70L1018.28,523.64L1018.59,524.52L1018.90,525.35L1019.21,526.13L1019.52,526.86L1019.84,527.53L1020.15,528.16L1020.46,528.73L1020.77,529.25L1021.08,529.72L1021.39,530.15L1021.70,530.52L1022.01,530.84L1022.32,531.11L1022.63,531.34L1022.94,531.51L1023.25,531.63L1023.57,531.71L1023.88,531.73L1024.19,531.70L1024.50,531.63L1024.81,531.51L1025.12,531.33L1025.43,531.11L1025.74,530.84L1026.05,530.51L1026.36,530.14L1026.67,529.72L1026.99,529.25L1027.30,528.73L1027.61,528.16L1027.92,527.53L1028.23,526.86L1028.54,526.14L1028.85,525.37L1029.16,524.55L1029.47,523.67L1029.78,522.75L1030.09,521.77L1030.40,520.74L1030.72,519.67L1031.03,518.54L1031.34,517.35L1031.65,516.12L1031.96,514.83L1032.27,513.49L1032.58,512.10L1032.89,510.65L1033.20,509.16L1033.51,507.60L1033.82,506.00L1034.13,504.34L1034.45,502.63L1034.76,500.86L1035.07,499.04L1035.38,497.16L1035.69,495.23L1036.00,493.25L1036.31,491.21L1036.62,489.12L1036.93,486.98L1037.24,484.78L1037.55,482.53L1037.86,480.22L1038.18,477.86L1038.49,475.46L1038.80,473.00L1039.11,470.49L1039.42,467.94L1039.73,465.33L1040.04,462.69L1040.35,460.00L1040.66,457.27L1040.97,454.50L1041.28,451.69L1041.59,448.86L1041.91,445.99L1042.22,443.11L1042.53,440.20L1042.84,437.28L1043.15,434.35L1043.46,431.41L1043.77,428.49L1044.08,425.57L1044.39,422.68L1044.70,419.82L1045.01,417.00L1045.33,414.23L1045.64,411.53L1045.95,408.90L1046.26,406.35L1046.57,403.91L1046.88,401.59L1047.19,399.39L1047.50,397.34L1047.81,395.44L1048.12,393.71L1048.43,392.16L1048.74,390.81L1049.06,389.67L1049.37,388.74L1049.68,388.03L1049.99,387.55L1050.28,387.31L1050.30,387.31L1050.38,387.28L1050.43,387.27L1050.47,387.27L1050.51,387.27L1050.56,387.28L1050.61,387.29L1050.66,387.31L1050.92,387.51L1051.23,387.97L1051.54,388.65L1051.85,389.55L1052.16,390.66L1052.47,391.97L1052.79,393.48L1053.10,395.17L1053.41,397.02L1053.72,399.02L1054.03,401.16L1054.34,403.43L1054.65,405.80L1054.96,408.28L1055.27,410.83L1055.58,413.46L1055.89,416.15L1056.20,418.89L1056.52,421.67L1056.83,424.47L1057.14,427.29L1057.45,430.13L1057.76,432.96L1058.07,435.80L1058.38,438.62L1058.69,441.43L1059.00,444.21L1059.31,446.98L1059.62,449.71L1059.93,452.41L1060.25,455.07L1060.56,457.70L1060.87,460.28L1061.18,462.82L1061.49,465.32L1061.80,467.77L1062.11,470.17L1062.42,472.52L1062.73,474.83L1063.04,477.08L1063.35,479.28L1063.67,481.42L1063.98,483.52L1064.29,485.56L1064.60,487.55L1064.91,489.48L1065.22,491.36L1065.53,493.19L1065.84,494.97L1066.15,496.69L1066.46,498.35L1066.77,499.97L1067.08,501.53L1067.40,503.04L1067.71,504.49L1068.02,505.90L1068.33,507.25L1068.64,508.55L1068.95,509.79L1069.26,510.99L1069.57,512.13L1069.88,513.22L1070.19,514.27L1070.50,515.26L1070.81,516.20L1071.13,517.09L1071.44,517.93L1071.75,518.72L1072.06,519.46L1072.37,520.15L1072.68,520.79L1072.99,521.39L1073.30,521.93L1073.61,522.43L1073.92,522.87L1074.23,523.27L1074.54,523.62L1074.86,523.92L1075.17,524.18L1075.48,524.38L1075.79,524.54L1076.10,524.65L1076.41,524.71L1076.72,524.73L1077.03,524.70L1077.34,524.62L1077.65,524.49L1077.96,524.31L1078.27,524.09L1078.59,523.81L1078.90,523.49L1079.21,523.13L1079.52,522.71L1079.83,522.25L1080.14,521.74L1080.45,521.18L1080.76,520.57L1081.07,519.91L1081.38,519.21L1081.69,518.45L1082.01,517.65L1082.32,516.80L1082.63,515.90L1082.94,514.95L1083.25,513.95L1083.56,512.91L1083.87,511.81L1084.18,510.66L1084.49,509.47L1084.80,508.22L1085.11,506.92L1085.42,505.57L1085.74,504.18L1086.05,502.73L1086.36,501.23L1086.67,499.68L1086.98,498.08L1087.29,496.43L1087.60,494.73L1087.91,492.98L1088.22,491.18L1088.53,489.33L1088.84,487.42L1089.15,485.47L1089.47,483.47L1089.78,481.42L1090.09,479.32L1090.40,477.17L1090.71,474.97L1091.02,472.73L1091.33,470.44L1091.64,468.11L1091.95,465.73L1092.26,463.32L1092.57,460.86L1092.88,458.36L1093.20,455.83L1093.51,453.27L1093.82,450.67L1094.13,448.05L1094.44,445.40L1094.75,442.74L1095.06,440.05L1095.37,437.36L1095.68,434.66L1095.99,431.96L1096.30,429.26L1096.61,426.58L1096.93,423.92L1097.24,421.29L1097.55,418.70L1097.86,416.15L1098.17,413.66L1098.48,411.23L1098.79,408.88L1099.10,406.62L1099.41,404.46L1099.72,402.42L1100.03,400.49L1100.35,398.70L1100.66,397.05L1100.97,395.57L1101.28,394.24L1101.59,393.10L1101.90,392.14L1102.21,391.37L1102.52,390.81L1102.83,390.44L1103.04,390.31L1103.14,390.28L1103.14,390.28L1103.19,390.27L1103.23,390.27L1103.27,390.27L1103.32,390.28L1103.42,390.31L1103.45,390.32L1103.76,390.57L1104.08,391.03L1104.39,391.68L1104.70,392.53L1105.01,393.57L1105.32,394.78L1105.63,396.16L1105.94,397.70L1106.25,399.40L1106.56,401.22L1106.87,403.18L1107.18,405.25L1107.49,407.42L1107.81,409.68L1108.12,412.02L1108.43,414.44L1108.74,416.91L1109.05,419.43L1109.36,421.98L1109.67,424.57L1109.98,427.18L1110.29,429.81L1110.60,432.45L1110.91,435.08L1111.22,437.71L1111.54,440.34L1111.85,442.94L1112.16,445.53L1112.47,448.10L1112.78,450.63L1113.09,453.14L1113.40,455.62L1113.71,458.06L1114.02,460.46L1114.33,462.83L1114.64,465.15L1114.95,467.43L1115.27,469.67L1115.58,471.86L1115.89,474.00L1116.20,476.10L1116.51,478.15L1116.82,480.15L1117.13,482.11L1117.44,484.01L1117.75,485.86L1118.06,487.67L1118.37,489.42L1118.69,491.13L1119.00,492.78L1119.31,494.38L1119.62,495.93L1119.93,497.44L1120.24,498.89L1120.55,500.29L1120.86,501.64L1121.17,502.94L1121.48,504.19L1121.79,505.40L1122.10,506.55L1122.42,507.65L1122.73,508.71L1123.04,509.71L1123.35,510.67L1123.66,511.57L1123.97,512.43L1124.28,513.24L1124.59,514.00L1124.90,514.72L1125.21,515.38L1125.52,516.00L1125.83,516.57L1126.15,517.09L1126.46,517.57L1126.77,517.99L1127.08,518.37L1127.39,518.71L1127.70,518.99L1128.01,519.23L1128.32,519.42L1128.63,519.57L1128.94,519.67L1129.25,519.72L1129.56,519.73L1129.88,519.69L1130.19,519.60L1130.50,519.46L1130.81,519.28L1131.12,519.06L1131.43,518.78L1131.74,518.46L1132.05,518.10L1132.36,517.68L1132.67,517.22L1132.98,516.71L1133.29,516.16L1133.61,515.56L1133.92,514.91L1134.23,514.22L1134.54,513.48L1134.85,512.69L1135.16,511.85L1135.47,510.97L1135.78,510.04L1136.09,509.06L1136.40,508.04L1136.71,506.96L1137.03,505.84L1137.34,504.68L1137.65,503.46L1137.96,502.20L1138.27,500.89L1138.58,499.53L1138.89,498.12L1139.20,496.66L1139.51,495.16L1139.82,493.61L1140.13,492.01L1140.44,490.37L1140.76,488.68L1141.07,486.94L1141.38,485.15L1141.69,483.32L1142.00,481.44L1142.31,479.52L1142.62,477.55L1142.93,475.54L1143.24,473.48L1143.55,471.39L1143.86,469.25L1144.17,467.07L1144.49,464.85L1144.80,462.60L1145.11,460.31L1145.42,457.98L1145.73,455.63L1146.04,453.25L1146.35,450.84L1146.66,448.40L1146.97,445.95L1147.28,443.48L1147.59,441.00L1147.90,438.51L1148.22,436.02L1148.53,433.53L1148.84,431.05L1149.15,428.58L1149.46,426.13L1149.77,423.71L1150.08,421.32L1150.39,418.98L1150.70,416.68L1151.01,414.45L1151.32,412.28L1151.63,410.20L1151.95,408.20L1152.26,406.30L1152.57,404.50L1152.88,402.82L1153.19,401.27L1153.50,399.85L1153.81,398.58L1154.12,397.46L1154.43,396.50L1154.74,395.70L1155.05,395.08L1155.37,394.63L1155.68,394.36L1155.80,394.30L1155.89,394.28L1155.94,394.27L1155.99,394.27L1155.99,394.27L1156.03,394.27L1156.08,394.28L1156.17,394.30L1156.30,394.36L1156.61,394.63L1156.92,395.08L1157.23,395.70L1157.54,396.49L1157.85,397.45L1158.16,398.56L1158.47,399.82L1158.78,401.23L1159.10,402.76L1159.41,404.42L1159.72,406.19L1160.03,408.06L1160.34,410.02L1160.65,412.07L1160.96,414.20L1161.27,416.39L1161.58,418.63L1161.89,420.93L1162.20,423.26L1162.51,425.63L1162.83,428.01L1163.14,430.42L1163.45,432.84L1163.76,435.26L1164.07,437.69L1164.38,440.10L1164.69,442.51L1165.00,444.91L1165.31,447.29L1165.62,449.64L1165.93,451.98L1166.24,454.28L1166.56,456.56L1166.87,458.80L1167.18,461.01L1167.49,463.19L1167.80,465.32L1168.11,467.42L1168.42,469.48L1168.73,471.50L1169.04,473.47L1169.35,475.40L1169.66,477.29L1169.97,479.13L1170.29,480.93L1170.60,482.68L1170.91,484.39L1171.22,486.05L1171.53,487.66L1171.84,489.22L1172.15,490.74L1172.46,492.22L1172.77,493.64L1173.08,495.02L1173.39,496.35L1173.71,497.63L1174.02,498.87L1174.33,500.06L1174.64,501.20L1174.95,502.30L1175.26,503.35L1175.57,504.35L1175.88,505.30L1176.19,506.21L1176.50,507.07L1176.81,507.88L1177.12,508.65L1177.44,509.38L1177.75,510.05L1178.06,510.68L1178.37,511.27L1178.68,511.80L1178.99,512.30L1179.30,512.74L1179.61,513.15L1179.92,513.50L1180.23,513.81L1180.54,514.08L1180.85,514.30L1181.17,514.47L1181.48,514.60L1181.79,514.69L1182.10,514.73L1182.41,514.72L1182.72,514.67L1183.03,514.58L1183.34,514.44L1183.65,514.25L1183.96,514.02L1184.27,513.75L1184.58,513.43L1184.90,513.06L1185.21,512.65L1185.52,512.20L1185.83,511.70L1186.14,511.15L1186.45,510.56L1186.76,509.93L1187.07,509.25L1187.38,508.52L1187.69,507.75L1188.00,506.93L1188.31,506.07L1188.63,505.17L1188.94,504.22L1189.25,503.22L1189.56,502.18L1189.87,501.09L1190.18,499.96L1190.49,498.78L1190.80,497.55L1191.11,496.29L1191.42,494.97L1191.73,493.61L1192.05,492.21L1192.36,490.76L1192.67,489.27L1192.98,487.73L1193.29,486.15L1193.60,484.53L1193.91,482.86L1194.22,481.15L1194.53,479.40L1194.84,477.60L1195.15,475.77L1195.46,473.89L1195.78,471.98L1196.09,470.03L1196.40,468.04L1196.71,466.01L1197.02,463.95L1197.33,461.86L1197.64,459.73L1197.95,457.58L1198.26,455.40L1198.57,453.19L1198.88,450.96L1199.19,448.71L1199.51,446.44L1199.82,444.17L1200.13,441.88L1200.44,439.58L1200.75,437.29L1201.06,434.99L1201.37,432.71L1201.68,430.44L1201.99,428.19L1202.30,425.96L1202.61,423.77L1202.92,421.61L1203.24,419.50L1203.55,417.44L1203.86,415.45L1204.17,413.52L1204.48,411.67L1204.79,409.90L1205.10,408.23L1205.41,406.66L1205.72,405.19L1206.03,403.85L1206.34,402.63L1206.65,401.54L1206.97,400.59L1207.28,399.78L1207.59,399.12L1207.90,398.61L1208.21,398.26L1208.52,398.06L1208.56,398.05L1208.65,398.03L1208.70,398.02L1208.75,398.02L1208.79,398.02L1208.83,398.03L1208.84,398.03L1208.93,398.05L1209.14,398.15L1209.45,398.43L1209.76,398.87L1210.07,399.45L1210.39,400.19L1210.70,401.07L1211.01,402.09L1211.32,403.24L1211.63,404.52L1211.94,405.91L1212.25,407.41L1212.56,409.02L1212.87,410.72L1213.18,412.50L1213.49,414.36L1213.80,416.29L1214.12,418.29L1214.43,420.33L1214.74,422.42L1215.05,424.55L1215.36,426.72L1215.67,428.91L1215.98,431.12L1216.29,433.34L1216.60,435.57L1216.91,437.81L1217.22,440.04L1217.53,442.27L1217.85,444.49L1218.16,446.70L1218.47,448.89L1218.78,451.06L1219.09,453.22L1219.40,455.34L1219.71,457.44L1220.02,459.51L1220.33,461.55L1220.64,463.55L1220.95,465.53L1221.26,467.46L1221.58,469.36L1221.89,471.22L1222.20,473.05L1222.51,474.83L1222.82,476.57L1223.13,478.28L1223.44,479.94L1223.75,481.55L1224.06,483.13L1224.37,484.66L1224.68,486.15L1224.99,487.59L1225.31,488.99L1225.62,490.35L1225.93,491.66L1226.24,492.93L1226.55,494.15L1226.86,495.33L1227.17,496.47L1227.48,497.56L1227.79,498.60L1228.10,499.60L1228.41,500.56L1228.73,501.47L1229.04,502.34L1229.35,503.16L1229.66,503.94L1229.97,504.67L1230.28,505.36L1230.59,506.01L1230.90,506.61L1231.21,507.17L1231.52,507.68L1231.83,508.15L1232.14,508.57L1232.46,508.95L1232.77,509.29L1233.08,509.58L1233.39,509.83L1233.70,510.04L1234.01,510.20L1234.32,510.32L1234.63,510.40L1234.94,510.43L1235.25,510.42L1235.56,510.36L1235.87,510.26L1236.19,510.12L1236.50,509.94L1236.81,509.71L1237.12,509.44L1237.43,509.12L1237.74,508.76L1238.05,508.36L1238.36,507.91L1238.67,507.42L1238.98,506.89L1239.29,506.31L1239.60,505.70L1239.92,505.03L1240.23,504.33L1240.54,503.58L1240.85,502.78L1241.16,501.95L1241.47,501.07L1241.78,500.14L1242.09,499.18L1242.40,498.17L1242.71,497.11L1243.02,496.02L1243.33,494.88L1243.65,493.70L1243.96,492.47L1244.27,491.20L1244.58,489.89L1244.89,488.54L1245.20,487.15L1245.51,485.71L1245.82,484.23L1246.13,482.72L1246.44,481.16L1246.75,479.56L1247.07,477.92L1247.38,476.24L1247.69,474.53L1248.00,472.78L1248.31,470.99L1248.62,469.16L1248.93,467.30L1249.24,465.41L1249.55,463.49L1249.86,461.54L1250.17,459.55L1250.48,457.55L1250.80,455.51L1251.11,453.46L1251.42,451.38L1251.73,449.29L1252.04,447.18L1252.35,445.06L1252.66,442.93L1252.97,440.80L1253.28,438.66L1253.59,436.53L1253.90,434.41L1254.21,432.30L1254.53,430.20L1254.84,428.13L1255.15,426.09L1255.46,424.09L1255.77,422.12L1256.08,420.20L1256.39,418.34L1256.70,416.53L1257.01,414.80L1257.32,413.14L1257.63,411.56L1257.94,410.07L1258.26,408.67L1258.57,407.38L1258.88,406.20L1259.19,405.13L1259.50,404.18L1259.81,403.36L1260.12,402.67L1260.43,402.11L1260.74,401.70L1261.05,401.42L1261.32,401.30L1261.36,401.28L1261.41,401.28L1261.46,401.27L1261.50,401.27L1261.55,401.27L1261.60,401.28L1261.67,401.29L1261.69,401.30L1261.99,401.44L1262.30,401.73L1262.61,402.16L1262.92,402.73L1263.23,403.43L1263.54,404.26L1263.85,405.21L1264.16,406.28L1264.47,407.47L1264.78,408.76L1265.09,410.15L1265.41,411.63L1265.72,413.20L1266.03,414.85L1266.34,416.57L1266.65,418.36L1266.96,420.20L1267.27,422.10L1267.58,424.04L1267.89,426.01L1268.20,428.02L1268.51,430.06L1268.82,432.11L1269.14,434.19L1269.45,436.27L1269.76,438.36L1270.07,440.45L1270.38,442.53L1270.69,444.62L1271.00,446.69L1271.31,448.75L1271.62,450.79L1271.93,452.81L1272.24,454.82L1272.55,456.80L1272.87,458.75L1273.18,460.68L1273.49,462.58L1273.80,464.45L1274.11,466.28L1274.42,468.09L1274.73,469.86L1275.04,471.59L1275.35,473.28L1275.66,474.94L1275.97,476.56L1276.28,478.14L1276.60,479.69L1276.91,481.19L1277.22,482.65L1277.53,484.07L1277.84,485.45L1278.15,486.79L1278.46,488.09L1278.77,489.34L1279.08,490.56L1279.39,491.73L1279.70,492.85L1280.01,493.94L1280.33,494.98L1280.64,495.98L1280.95,496.94L1281.26,497.86L1281.57,498.73L1281.88,499.56L1282.19,500.35L1282.50,501.09L1282.81,501.79L1283.12,502.45L1283.43,503.07L1283.75,503.64L1284.06,504.17L1284.37,504.66L1284.68,505.10L1284.99,505.51L1285.30,505.87L1285.61,506.19L1285.92,506.46L1286.23,506.70L1286.54,506.89L1286.85,507.04L1287.16,507.14L1287.48,507.21L1287.79,507.23L1288.10,507.21L1288.41,507.15L1288.72,507.04L1289.03,506.90L1289.34,506.71L1289.65,506.48L1289.96,506.21L1290.27,505.90L1290.58,505.54L1290.89,505.14L1291.21,504.70L1291.52,504.22L1291.83,503.70L1292.14,503.13L1292.45,502.53L1292.76,501.88L1293.07,501.19L1293.38,500.46L1293.69,499.69L1294.00,498.87L1294.31,498.01L1294.62,497.12L1294.94,496.18L1295.25,495.20L1295.56,494.18L1295.87,493.12L1296.18,492.01L1296.49,490.87L1296.80,489.69L1297.11,488.46L1297.42,487.20L1297.73,485.90L1298.04,484.56L1298.35,483.18L1298.67,481.76L1298.98,480.30L1299.29,478.81L1299.60,477.28L1299.91,475.71L1300.22,474.11L1300.53,472.48L1300.84,470.81L1301.15,469.11L1301.46,467.37L1301.77,465.61L1302.09,463.82L1302.40,462.00L1302.71,460.16L1303.02,458.29L1303.33,456.40L1303.64,454.49L1303.95,452.56L1304.26,450.62L1304.57,448.66L1304.88,446.70L1305.19,444.73L1305.50,442.75L1305.82,440.78L1306.13,438.81L1306.44,436.84L1306.75,434.89L1307.06,432.96L1307.37,431.05L1307.68,429.16L1307.99,427.30L1308.30,425.49L1308.61,423.71L1308.92,421.98L1309.23,420.31L1309.55,418.69L1309.86,417.14L1310.17,415.67L1310.48,414.27L1310.79,412.96L1311.10,411.73L1311.41,410.60L1311.72,409.57L1312.03,408.65L1312.34,407.84L1312.65,407.14L1312.96,406.56L1313.28,406.10L1313.59,405.77L1313.90,405.56L1314.07,405.49L1314.17,405.48L1314.21,405.47L1314.22,405.47L1314.26,405.47L1314.30,405.47L1314.35,405.48L1314.45,405.49L1314.52,405.51L1314.83,405.68L1315.14,405.98L1315.45,406.39L1315.76,406.93L1316.07,407.59L1316.38,408.36L1316.69,409.24L1317.01,410.23L1317.32,411.31L1317.63,412.50L1317.94,413.77L1318.25,415.13L1318.56,416.56L1318.87,418.07L1319.18,419.64L1319.49,421.27L1319.80,422.96L1320.11,424.69L1320.43,426.47L1320.74,428.28L1321.05,430.13L1321.36,432.00L1321.67,433.89L1321.98,435.80L1322.29,437.72L1322.60,439.65L1322.91,441.58L1323.22,443.52L1323.53,445.45L1323.84,447.37L1324.16,449.28L1324.47,451.18L1324.78,453.07L1325.09,454.94L1325.40,456.79L1325.71,458.61L1326.02,460.42L1326.33,462.20L1326.64,463.95L1326.95,465.67L1327.26,467.36L1327.57,469.03L1327.89,470.66L1328.20,472.25L1328.51,473.82L1328.82,475.34L1329.13,476.84L1329.44,478.29L1329.75,479.71L1330.06,481.09L1330.37,482.44L1330.68,483.74L1330.99,485.01L1331.30,486.24L1331.62,487.43L1331.93,488.58L1332.24,489.69L1332.55,490.76L1332.86,491.79L1333.17,492.78L1333.48,493.73L1333.79,494.64L1334.10,495.51L1334.41,496.33L1334.72,497.12L1335.03,497.87L1335.35,498.57L1335.66,499.24L1335.97,499.86L1336.28,500.44L1336.59,500.99L1336.90,501.49L1337.21,501.95L1337.52,502.37L1337.83,502.75L1338.14,503.09L1338.45,503.38L1338.77,503.64L1339.08,503.86L1339.39,504.03L1339.70,504.17L1340.01,504.26L1340.32,504.32L1340.63,504.33L1340.94,504.30L1341.25,504.23L1341.56,504.13L1341.87,503.98L1342.18,503.79L1342.50,503.56L1342.81,503.29L1343.12,502.98L1343.43,502.62L1343.74,502.23L1344.05,501.80L1344.36,501.33L1344.67,500.82L1344.98,500.27L1345.29,499.67L1345.60,499.04L1345.91,498.37L1346.23,497.66L1346.54,496.91L1346.85,496.12L1347.16,495.28L1347.47,494.41L1347.78,493.51L1348.09,492.56L1348.40,491.57L1348.71,490.54L1349.02,489.48L1349.33,488.38L1349.64,487.24L1349.96,486.06L1350.27,484.84L1350.58,483.59L1350.89,482.30L1351.20,480.98L1351.51,479.62L1351.82,478.22L1352.13,476.79L1352.44,475.33L1352.75,473.83L1353.06,472.31L1353.37,470.75L1353.69,469.16L1354.00,467.54L1354.31,465.90L1354.62,464.23L1354.93,462.53L1355.24,460.81L1355.55,459.07L1355.86,457.31L1356.17,455.53L1356.48,453.74L1356.79,451.93L1357.11,450.11L1357.42,448.28L1357.73,446.45L1358.04,444.61L1358.35,442.78L1358.66,440.95L1358.97,439.12L1359.28,437.31L1359.59,435.51L1359.90,433.73L1360.21,431.98L1360.52,430.25L1360.84,428.56L1361.15,426.91L1361.46,425.29L1361.77,423.73L1362.08,422.22L1362.39,420.76L1362.70,419.38L1363.01,418.06L1363.32,416.81L1363.63,415.64L1363.94,414.56L1364.25,413.57L1364.57,412.67L1364.88,411.86L1365.19,411.16L1365.50,410.56L1365.81,410.07L1366.12,409.69L1366.43,409.42L1366.74,409.26L1366.83,409.24L1366.92,409.23L1366.97,409.22L1367.02,409.22L1367.05,409.22L1367.06,409.22L1367.11,409.23L1367.20,409.24L1367.36,409.29L1367.67,409.47L1367.98,409.77L1368.30,410.17L1368.61,410.69L1368.92,411.31L1369.23,412.03L1369.54,412.85L1369.85,413.77L1370.16,414.77L1370.47,415.87L1370.78,417.04L1371.09,418.29L1371.40,419.61L1371.71,421.00L1372.03,422.45L1372.34,423.95L1372.65,425.51L1372.96,427.11L1373.27,428.74L1373.58,430.42L1373.89,432.12L1374.20,433.85L1374.51,435.60L1374.82,437.37L1375.13,439.15L1375.45,440.95L1375.76,442.74L1376.07,444.54L1376.38,446.34L1376.69,448.13L1377.00,449.91L1377.31,451.69L1377.62,453.45L1377.93,455.20L1378.24,456.93L1378.55,458.65L1378.86,460.34L1379.18,462.01L1379.49,463.66L1379.80,465.28L1380.11,466.87L1380.42,468.44L1380.73,469.97L1381.04,471.48L1381.35,472.96L1381.66,474.40L1381.97,475.81L1382.28,477.19L1382.59,478.53L1382.91,479.84L1383.22,481.11L1383.53,482.35L1383.84,483.55L1384.15,484.72L1384.46,485.85L1384.77,486.94L1385.08,487.99L1385.39,489.01L1385.70,489.99L1386.01,490.93L1386.32,491.83L1386.64,492.69L1386.95,493.52L1387.26,494.30L1387.57,495.05L1387.88,495.76L1388.19,496.43L1388.50,497.06L1388.81,497.65L1389.12,498.20L1389.43,498.71L1389.74,499.19L1390.05,499.62L1390.37,500.02L1390.68,500.38L1390.99,500.69L1391.30,500.97L1391.61,501.21L1391.92,501.41L1392.23,501.57L1392.54,501.70L1392.85,501.78L1393.16,501.82L1393.47,501.83L1393.79,501.79L1394.10,501.72L1394.41,501.61L1394.72,501.46L1395.03,501.27L1395.34,501.04L1395.65,500.77L1395.96,500.47L1396.27,500.12L1396.58,499.74L1396.89,499.32L1397.20,498.86L1397.52,498.36L1397.83,497.83L1398.14,497.25L1398.45,496.64L1398.76,495.99L1399.07,495.30L1399.38,494.57L1399.69,493.81L1400.00,493.01L1400.31,492.17L1400.62,491.29L1400.93,490.38L1401.25,489.43L1401.56,488.45L1401.87,487.42L1402.18,486.37L1402.49,485.27L1402.80,484.14L1403.11,482.98L1403.42,481.78L1403.73,480.55L1404.04,479.29L1404.35,477.99L1404.66,476.66L1404.98,475.30L1405.29,473.91L1405.60,472.49L1405.91,471.04L1406.22,469.57L1406.53,468.06L1406.84,466.53L1407.15,464.98L1407.46,463.41L1407.77,461.81L1408.08,460.19L1408.39,458.56L1408.71,456.90L1409.02,455.24L1409.33,453.56L1409.64,451.87L1409.95,450.18L1410.26,448.48L1410.57,446.77L1410.88,445.07L1411.19,443.37L1411.50,441.68L1411.81,440.00L1412.13,438.33L1412.44,436.68L1412.75,435.05L1413.06,433.45L1413.37,431.88L1413.68,430.34L1413.99,428.83L1414.30,427.37L1414.61,425.96L1414.92,424.60L1415.23,423.29L1415.54,422.05L1415.86,420.87L1416.17,419.76L1416.48,418.73L1416.79,417.77L1417.10,416.90L1417.41,416.11L1417.72,415.41L1418.03,414.81L1418.34,414.29L1418.65,413.88L1418.96,413.57L1419.27,413.35L1419.59,413.24L1419.68,413.22L1419.73,413.22L1419.77,413.22L1419.82,413.22L1419.87,413.22L1419.90,413.23L1419.96,413.24L1420.21,413.32L1420.52,413.51L1420.83,413.81L1421.14,414.20L1421.45,414.69L1421.76,415.28L1422.07,415.96L1422.38,416.72L1422.69,417.58L1423.00,418.51L1423.32,419.52L1423.63,420.61L1423.94,421.77L1424.25,422.99L1424.56,424.27L1424.87,425.61L1425.18,427.00L1425.49,428.44L1425.80,429.92L1426.11,431.44L1426.42,432.99L1426.73,434.57L1427.05,436.18L1427.36,437.81L1427.67,439.45L1427.98,441.11L1428.29,442.78L1428.60,444.45L1428.91,446.13L1429.22,447.81L1429.53,449.49L1429.84,451.16L1430.15,452.83L1430.47,454.48L1430.78,456.13L1431.09,457.76L1431.40,459.37L1431.71,460.96L1432.02,462.54L1432.33,464.09L1432.64,465.62L1432.95,467.13L1433.26,468.61L1433.57,470.06L1433.88,471.49L1434.20,472.89L1434.51,474.26L1434.82,475.60L1435.13,476.91L1435.44,478.18L1435.75,479.43L1436.06,480.64L1436.37,481.82L1436.68,482.96L1436.99,484.07L1437.30,485.15L1437.61,486.19L1437.93,487.19L1438.24,488.16L1438.55,489.09L1438.86,489.99L1439.17,490.85L1439.48,491.67L1439.79,492.46L1440.10,493.21L1440.41,493.92L1440.72,494.60L1441.03,495.23L1441.34,495.84L1441.66,496.40L1441.97,496.92L1442.28,497.41L1442.59,497.86L1442.90,498.28L1443.21,498.65L1443.52,498.99L1443.83,499.29L1444.14,499.55L1444.45,499.77L1444.76,499.96L1445.07,500.11L1445.39,500.22L1445.70,500.29L1446.01,500.33L1446.32,500.32L1446.63,500.28L1446.94,500.21L1447.25,500.09L1447.56,499.94L1447.87,499.75L1448.18,499.52L1448.49,499.25L1448.81,498.95L1449.12,498.61L1449.43,498.23L1449.74,497.82L1450.05,497.36L1450.36,496.87L1450.67,496.35L1450.98,495.79L1451.29,495.19L1451.60,494.55L1451.91,493.88L1452.22,493.17L1452.54,492.42L1452.85,491.64L1453.16,490.83L1453.47,489.98L1453.78,489.09L1454.09,488.17L1454.40,487.21L1454.71,486.22L1455.02,485.20L1455.33,484.14L1455.64,483.05L1455.95,481.93L1456.27,480.77L1456.58,479.59L1456.89,478.37L1457.20,477.12L1457.51,475.84L1457.82,474.54L1458.13,473.20L1458.44,471.84L1458.75,470.46L1459.06,469.05L1459.37,467.61L1459.68,466.15L1460.00,464.67L1460.31,463.18L1460.62,461.66L1460.93,460.12L1461.24,458.58L1461.55,457.01L1461.86,455.44L1462.17,453.86L1462.48,452.27L1462.79,450.67L1463.10,449.08L1463.41,447.48L1463.73,445.89L1464.04,444.31L1464.35,442.73L1464.66,441.17L1464.97,439.62L1465.28,438.09L1465.59,436.59L1465.90,435.11L1466.21,433.66L1466.52,432.25L1466.83,430.87L1467.15,429.54L1467.46,428.25L1467.77,427.01L1468.08,425.83L1468.39,424.71L1468.70,423.65L1469.01,422.65L1469.32,421.73L1469.63,420.88L1469.94,420.10L1470.25,419.41L1470.56,418.79L1470.88,418.27L1471.19,417.83L1471.50,417.48L1471.81,417.22L1472.12,417.05L1472.34,416.99L1472.43,416.97L1472.43,416.97L1472.48,416.97L1472.53,416.97L1472.57,416.97L1472.62,416.97L1472.71,416.99L1472.74,416.99L1473.05,417.10L1473.36,417.30L1473.67,417.60L1473.98,417.98L1474.29,418.45L1474.61,419.01L1474.92,419.65L1475.23,420.37L1475.54,421.16L1475.85,422.04L1476.16,422.98L1476.47,423.99L1476.78,425.06L1477.09,426.20L1477.40,427.39L1477.71,428.63L1478.02,429.92L1478.34,431.25L1478.65,432.62L1478.96,434.03L1479.27,435.46L1479.58,436.93L1479.89,438.42L1480.20,439.93L1480.51,441.46L1480.82,443.00L1481.13,444.55L1481.44,446.11L1481.75,447.67L1482.07,449.24L1482.38,450.80L1482.69,452.36L1483.00,453.92L1483.31,455.46L1483.62,457.00L1483.93,458.52L1484.24,460.03L1484.55,461.53L1484.86,463.00L1485.17,464.46L1485.49,465.89L1485.80,467.31L1486.11,468.70L1486.42,470.07L1486.73,471.41L1487.04,472.72L1487.35,474.01L1487.66,475.27L1487.97,476.51L1488.28,477.71L1488.59,478.88L1488.90,480.02L1489.22,481.13L1489.53,482.21L1489.84,483.26L1490.15,484.27L1490.46,485.25L1490.77,486.20L1491.08,487.12L1491.39,488.00L1491.70,488.84L1492.01,489.65L1492.32,490.43L1492.63,491.17L1492.95,491.88L1493.26,492.55L1493.57,493.19L1493.88,493.79L1494.19,494.35L1494.50,494.88L1494.81,495.38L1495.12,495.84L1495.43,496.26L1495.74,496.65L1496.05,497.00L1496.36,497.31L1496.68,497.59L1496.99,497.83L1497.30,498.04L1497.61,498.21L1497.92,498.34L1498.23,498.44L1498.54,498.50L1498.85,498.53L1499.16,498.52L1499.47,498.47L1499.78,498.39L1500.09,498.27L1500.41,498.12L1500.72,497.93L1501.03,497.71L1501.34,497.45L1501.65,497.15L1501.96,496.82L1502.27,496.45L1502.58,496.05L1502.89,495.61L1503.20,495.14L1503.51,494.63L1503.83,494.08L1504.14,493.51L1504.45,492.89L1504.76,492.25L1505.07,491.57L1505.38,490.85L1505.69,490.10L1506.00,489.32L1506.31,488.51L1506.62,487.66L1506.93,486.78L1507.24,485.87L1507.56,484.92L1507.87,483.95L1508.18,482.94L1508.49,481.90L1508.80,480.83L1509.11,479.74L1509.42,478.61L1509.73,477.46L1510.04,476.28L1510.35,475.07L1510.66,473.83L1510.97,472.58L1511.29,471.29L1511.60,469.99L1511.91,468.66L1512.22,467.31L1512.53,465.94L1512.84,464.56L1513.15,463.15L1513.46,461.74L1513.77,460.30L1514.08,458.86L1514.39,457.41L1514.70,455.94L1515.02,454.47L1515.33,453.00L1515.64,451.53L1515.95,450.05L1516.26,448.58L1516.57,447.12L1516.88,445.66L1517.19,444.22L1517.50,442.79L1517.81,441.37L1518.12,439.98L1518.43,438.61L1518.75,437.27L1519.06,435.96L1519.37,434.68L1519.68,433.44L1519.99,432.24L1520.30,431.08L1520.61,429.98L1520.92,428.92L1521.23,427.92L1521.54,426.98L1521.85,426.10L1522.17,425.29L1522.48,424.54L1522.79,423.86L1523.10,423.26L1523.41,422.73L1523.72,422.28L1524.03,421.91L1524.34,421.62L1524.65,421.41L1524.96,421.28L1525.09,421.25L1525.19,421.24L1525.24,421.24L1525.27,421.24L1525.28,421.24L1525.32,421.24L1525.37,421.24L1525.47,421.26L1525.58,421.28L1525.90,421.40L1526.21,421.61L1526.52,421.90L1526.83,422.27L1527.14,422.72L1527.45,423.24L1527.76,423.84L1528.07,424.51L1528.38,425.26L1528.69,426.07L1529.00,426.94L1529.31,427.88L1529.63,428.87L1529.94,429.92L1530.25,431.02L1530.56,432.17L1530.87,433.36L1531.18,434.59L1531.49,435.86L1531.80,437.16L1532.11,438.49L1532.42,439.85L1532.73,441.23L1533.04,442.63L1533.36,444.05L1533.67,445.49L1533.98,446.93L1534.29,448.38L1534.60,449.84L1534.91,451.30L1535.22,452.76L1535.53,454.21L1535.84,455.67L1536.15,457.12L1536.46,458.55L1536.77,459.98L1537.09,461.40L1537.40,462.80L1537.71,464.19L1538.02,465.56L1538.33,466.91L1538.64,468.25L1538.95,469.56L1539.26,470.85L1539.57,472.12L1539.88,473.36L1540.19,474.58L1540.51,475.77L1540.82,476.94L1541.13,478.08L1541.44,479.19L1541.75,480.27L1542.06,481.33L1542.37,482.35L1542.68,483.35L1542.99,484.31L1543.30,485.24L1543.61,486.14L1543.92,487.01L1544.24,487.85L1544.55,488.65L1544.86,489.43L1545.17,490.17L1545.48,490.87L1545.79,491.54L1546.10,492.18L1546.41,492.79L1546.72,493.36L1547.03,493.90L1547.34,494.40L1547.65,494.87L1547.97,495.31L1548.28,495.71L1548.59,496.07L1548.90,496.41L1549.21,496.70L1549.52,496.96L1549.83,497.19L1550.14,497.39L1550.45,497.54L1550.76,497.67L1551.07,497.76L1551.38,497.81L1551.70,497.83L1552.01,497.81L1552.32,497.77L1552.63,497.68L1552.94,497.56L1553.25,497.41L1553.56,497.22L1553.87,497.00L1554.18,496.74L1554.49,496.45L1554.80,496.13L1555.11,495.77L1555.43,495.38L1555.74,494.95L1556.05,494.49L1556.36,493.99L1556.67,493.47L1556.98,492.91L1557.29,492.31L1557.60,491.69L1557.91,491.03L1558.22,490.34L1558.53,489.62L1558.85,488.86L1559.16,488.07L1559.47,487.26L1559.78,486.41L1560.09,485.53L1560.40,484.62L1560.71,483.68L1561.02,482.72L1561.33,481.72L1561.64,480.70L1561.95,479.65L1562.26,478.57L1562.58,477.47L1562.89,476.34L1563.20,475.18L1563.51,474.01L1563.82,472.81L1564.13,471.58L1564.44,470.34L1564.75,469.08L1565.06,467.80L1565.37,466.50L1565.68,465.19L1565.99,463.86L1566.31,462.52L1566.62,461.17L1566.93,459.81L1567.24,458.44L1567.55,457.06L1567.86,455.68L1568.17,454.30L1568.48,452.92L1568.79,451.54L1569.10,450.17L1569.41,448.80L1569.72,447.45L1570.04,446.11L1570.35,444.78L1570.66,443.47L1570.97,442.18L1571.28,440.92L1571.59,439.68L1571.90,438.47L1572.21,437.30L1572.52,436.17L1572.83,435.07L1573.14,434.02L1573.45,433.01L1573.77,432.05L1574.08,431.15L1574.39,430.30L1574.70,429.51L1575.01,428.78L1575.32,428.11L1575.63,427.51L1575.94,426.97L1576.25,426.51L1576.56,426.12L1576.87,425.80L1577.19,425.55L1577.50,425.38L1577.81,425.29L1577.85,425.28L1577.94,425.27L1577.99,425.27L1578.03,425.27L1578.08,425.27L1578.12,425.27L1578.13,425.27L1578.22,425.28L1578.43,425.33L1578.74,425.47L1579.05,425.68L1579.36,425.96L1579.67,426.32L1579.98,426.75L1580.29,427.25L1580.60,427.82L1580.92,428.45L1581.23,429.15L1581.54,429.91L1581.85,430.73L1582.16,431.61L1582.47,432.53L1582.78,433.51L1583.09,434.54L1583.40,435.61L1583.71,436.72L1584.02,437.87L1584.33,439.05L1584.65,440.27L1584.96,441.51L1585.27,442.78L1585.58,444.07L1585.89,445.38L1586.20,446.70L1586.51,448.04L1586.82,449.39L1587.13,450.75L1587.44,452.11L1587.75,453.48L1588.06,454.85L1588.38,456.22L1588.69,457.58L1589.00,458.94L1589.31,460.29L1589.62,461.63L1589.93,462.97L1590.24,464.29L1590.55,465.59L1590.86,466.88L1591.17,468.16L1591.48,469.42L1591.79,470.65L1592.11,471.87L1592.42,473.07L1592.73,474.24L1593.04,475.39L1593.35,476.52L1593.66,477.63L1593.97,478.70L1594.28,479.76L1594.59,480.78L1594.90,481.78L1595.21,482.75L1595.53,483.69L1595.84,484.60L1596.15,485.48L1596.46,486.34L1596.77,487.16L1597.08,487.95L1597.39,488.72L1597.70,489.45L1598.01,490.15L1598.32,490.82L1598.63,491.45L1598.94,492.06L1599.26,492.63L1599.57,493.17L1599.88,493.68L1600.19,494.15L1600.50,494.59L1600.81,495.00L1601.12,495.38L1601.43,495.72L1601.74,496.03L1602.05,496.31L1602.36,496.55L1602.67,496.77L1602.99,496.94L1603.30,497.09L1603.61,497.20L1603.92,497.27L1604.23,497.32L1604.54,497.33L1604.85,497.31L1605.16,497.25L1605.47,497.16L1605.78,497.04L1606.09,496.88L1606.40,496.70L1606.72,496.47L1607.03,496.22L1607.34,495.93L1607.65,495.61L1607.96,495.26L1608.27,494.88L1608.58,494.46L1608.89,494.01L1609.20,493.53L1609.51,493.02L1609.82,492.47L1610.13,491.89L1610.45,491.29L1610.76,490.65L1611.07,489.98L1611.38,489.28L1611.69,488.55L1612.00,487.79L1612.31,487.00L1612.62,486.19L1612.93,485.34L1613.24,484.47L1613.55,483.56L1613.87,482.64L1614.18,481.68L1614.49,480.70L1614.80,479.69L1615.11,478.66L1615.42,477.61L1615.73,476.53L1616.04,475.43L1616.35,474.31L1616.66,473.17L1616.97,472.00L1617.28,470.82L1617.60,469.63L1617.91,468.41L1618.22,467.19L1618.53,465.94L1618.84,464.69L1619.15,463.43L1619.46,462.15L1619.77,460.87L1620.08,459.59L1620.39,458.30L1620.70,457.00L1621.01,455.71L1621.33,454.42L1621.64,453.14L1621.95,451.86L1622.26,450.59L1622.57,449.33L1622.88,448.09L1623.19,446.86L1623.50,445.65L1623.81,444.46L1624.12,443.30L1624.43,442.17L1624.74,441.06L1625.06,439.99L1625.37,438.95L1625.68,437.96L1625.99,437.00L1626.30,436.09L1626.61,435.22L1626.92,434.41L1627.23,433.65L1627.54,432.94L1627.85,432.29L1628.16,431.69L1628.47,431.16L1628.79,430.69L1629.10,430.29L1629.41,429.95L1629.72,429.68L1630.03,429.48L1630.34,429.34L1630.60,429.28L1630.65,429.28L1630.69,429.27L1630.74,429.27L1630.79,429.27L1630.83,429.27L1630.88,429.27L1630.96,429.28L1630.97,429.28L1631.27,429.35L1631.58,429.50L1631.89,429.71L1632.21,429.99L1632.52,430.33L1632.83,430.74L1633.14,431.22L1633.45,431.76L1633.76,432.35L1634.07,433.01L1634.38,433.72L1634.69,434.49L1635.00,435.30L1635.31,436.17L1635.62,437.08L1635.94,438.03L1636.25,439.03L1636.56,440.06L1636.87,441.13L1637.18,442.23L1637.49,443.36L1637.80,444.51L1638.11,445.69L1638.42,446.89L1638.73,448.11L1639.04,449.34L1639.35,450.59L1639.67,451.84L1639.98,453.11L1640.29,454.38L1640.60,455.66L1640.91,456.93L1641.22,458.21L1641.53,459.49L1641.84,460.76L1642.15,462.02L1642.46,463.28L1642.77,464.52L1643.08,465.76L1643.40,466.98L1643.71,468.20L1644.02,469.39L1644.33,470.57L1644.64,471.73L1644.95,472.88L1645.26,474.00L1645.57,475.11L1645.88,476.19L1646.19,477.25L1646.50,478.29L1646.81,479.30L1647.13,480.29L1647.44,481.26L1647.75,482.20L1648.06,483.11L1648.37,484.00L1648.68,484.86L1648.99,485.69L1649.30,486.50L1649.61,487.27L1649.92,488.02L1650.23,488.74L1650.55,489.43L1650.86,490.08L1651.17,490.71L1651.48,491.31L1651.79,491.88L1652.10,492.42L1652.41,492.93L1652.72,493.40L1653.03,493.85L1653.34,494.26L1653.65,494.65L1653.96,495.00L1654.28,495.32L1654.59,495.61L1654.90,495.86L1655.21,496.09L1655.52,496.28L1655.83,496.45L1656.14,496.58L1656.45,496.67L1656.76,496.74L1657.07,496.77L1657.38,496.78L1657.69,496.75L1658.01,496.69L1658.32,496.59L1658.63,496.47L1658.94,496.31L1659.25,496.13L1659.56,495.91L1659.87,495.66L1660.18,495.38L1660.49,495.06L1660.80,494.72L1661.11,494.35L1661.42,493.94L1661.74,493.51L1662.05,493.04L1662.36,492.54L1662.67,492.02L1662.98,491.46L1663.29,490.88L1663.60,490.26L1663.91,489.62L1664.22,488.95L1664.53,488.25L1664.84,487.52L1665.15,486.76L1665.47,485.98L1665.78,485.17L1666.09,484.34L1666.40,483.48L1666.71,482.59L1667.02,481.68L1667.33,480.75L1667.64,479.79L1667.95,478.81L1668.26,477.81L1668.57,476.79L1668.89,475.74L1669.20,474.68L1669.51,473.60L1669.82,472.50L1670.13,471.39L1670.44,470.26L1670.75,469.12L1671.06,467.96L1671.37,466.80L1671.68,465.62L1671.99,464.44L1672.30,463.25L1672.62,462.05L1672.93,460.85L1673.24,459.65L1673.55,458.44L1673.86,457.24L1674.17,456.04L1674.48,454.85L1674.79,453.67L1675.10,452.50L1675.41,451.34L1675.72,450.19L1676.03,449.06L1676.35,447.95L1676.66,446.86L1676.97,445.80L1677.28,444.77L1677.59,443.76L1677.90,442.78L1678.21,441.84L1678.52,440.94L1678.83,440.08L1679.14,439.25L1679.45,438.48L1679.76,437.75L1680.08,437.06L1680.39,436.43L1680.70,435.85L1681.01,435.33L1681.32,434.86L1681.63,434.45L1681.94,434.10L1682.25,433.81L1682.56,433.58L1682.87,433.42L1683.18,433.31L1683.36,433.28L1683.45,433.27L1683.49,433.27L1683.50,433.27L1683.54,433.27L1683.59,433.27L1683.63,433.27L1683.73,433.28L1683.81,433.29L1684.12,433.38L1684.43,433.53L1684.74,433.74L1685.05,434.01L1685.36,434.34L1685.67,434.73L1685.98,435.18L1686.29,435.69L1686.60,436.25L1686.91,436.86L1687.23,437.53L1687.54,438.24L1687.85,439.00L1688.16,439.81L1688.47,440.65L1688.78,441.54L1689.09,442.47L1689.40,443.43L1689.71,444.42L1690.02,445.44L1690.33,446.49L1690.64,447.56L1690.96,448.66L1691.27,449.77L1691.58,450.91L1691.89,452.05L1692.20,453.22L1692.51,454.39L1692.82,455.57L1693.13,456.75L1693.44,457.94L1693.75,459.14L1694.06,460.33L1694.37,461.52L1694.69,462.71L1695.00,463.89L1695.31,465.07L1695.62,466.24L1695.93,467.40L1696.24,468.55L1696.55,469.68L1696.86,470.81L1697.17,471.92L1697.48,473.01L1697.79,474.09L1698.10,475.15L1698.42,476.19L1698.73,477.21L1699.04,478.21L1699.35,479.19L1699.66,480.14L1699.97,481.08L1700.28,481.99L1700.59,482.88L1700.90,483.74L1701.21,484.58L1701.52,485.39L1701.83,486.18L1702.15,486.94L1702.46,487.67L1702.77,488.38L1703.08,489.06L1703.39,489.71L1703.70,490.33L1704.01,490.93L1704.32,491.50L1704.63,492.03L1704.94,492.54L1705.25,493.02L1705.57,493.47L1705.88,493.89L1706.19,494.28L1706.50,494.65L1706.81,494.98L1707.12,495.28L1707.43,495.55L1707.74,495.79L1708.05,496.00L1708.36,496.18L1708.67,496.33L1708.98,496.45L1709.30,496.54L1709.61,496.60L1709.92,496.63L1710.23,496.63L1710.54,496.59L1710.85,496.53L1711.16,496.44L1711.47,496.31L1711.78,496.16L1712.09,495.98L1712.40,495.76L1712.71,495.52L1713.03,495.24L1713.34,494.94L1713.65,494.61L1713.96,494.25L1714.27,493.85L1714.58,493.43L1714.89,492.99L1715.20,492.51L1715.51,492.00L1715.82,491.47L1716.13,490.90L1716.44,490.31L1716.76,489.70L1717.07,489.05L1717.38,488.38L1717.69,487.68L1718.00,486.96L1718.31,486.21L1718.62,485.44L1718.93,484.64L1719.24,483.82L1719.55,482.98L1719.86,482.11L1720.17,481.22L1720.49,480.31L1720.80,479.38L1721.11,478.43L1721.42,477.46L1721.73,476.47L1722.04,475.46L1722.35,474.44L1722.66,473.40L1722.97,472.35L1723.28,471.28L1723.59,470.20L1723.91,469.11L1724.22,468.02L1724.53,466.91L1724.84,465.80L1725.15,464.68L1725.46,463.55L1725.77,462.43L1726.08,461.30L1726.39,460.18L1726.70,459.06L1727.01,457.94L1727.32,456.83L1727.64,455.73L1727.95,454.64L1728.26,453.57L1728.57,452.51L1728.88,451.46L1729.19,450.44L1729.50,449.43L1729.81,448.46L1730.12,447.50L1730.43,446.58L1730.74,445.69L1731.05,444.83L1731.37,444.00L1731.68,443.21L1731.99,442.47L1732.30,441.76L1732.61,441.10L1732.92,440.49L1733.23,439.92L1733.54,439.40L1733.85,438.93L1734.16,438.52L1734.47,438.16L1734.78,437.85L1735.10,437.60L1735.41,437.41L1735.72,437.27L1736.03,437.19L1736.11,437.18L1736.20,437.17L1736.25,437.17L1736.29,437.17L1736.34,437.17L1736.34,437.17L1736.39,437.17L1736.48,437.18L1736.65,437.21L1736.96,437.30L1737.27,437.46L1737.58,437.67L1737.89,437.93L1738.20,438.26L1738.51,438.63L1738.83,439.06L1739.14,439.55L1739.45,440.08L1739.76,440.66L1740.07,441.29L1740.38,441.96L1740.69,442.68L1741.00,443.44L1741.31,444.24L1741.62,445.07L1741.93,445.94L1742.25,446.84L1742.56,447.77L1742.87,448.73L1743.18,449.72L1743.49,450.72L1743.80,451.75L1744.11,452.80L1744.42,453.87L1744.73,454.95L1745.04,456.04L1745.35,457.14L1745.66,458.25L1745.98,459.37L1746.29,460.49L1746.60,461.61L1746.91,462.74L1747.22,463.86L1747.53,464.98L1747.84,466.10L1748.15,467.21L1748.46,468.32L1748.77,469.42L1749.08,470.50L1749.39,471.58L1749.71,472.64L1750.02,473.69L1750.33,474.73L1750.64,475.75L1750.95,476.75L1751.26,477.74L1751.57,478.71L1751.88,479.65L1752.19,480.58L1752.50,481.49L1752.81,482.38L1753.12,483.25L1753.44,484.09L1753.75,484.91L1754.06,485.71L1754.37,486.48L1754.68,487.23L1754.99,487.95L1755.30,488.65L1755.61,489.32L1755.92,489.97L1756.23,490.59L1756.54,491.18L1756.85,491.75L1757.17,492.29L1757.48,492.80L1757.79,493.28L1758.10,493.74L1758.41,494.17L1758.72,494.56L1759.03,494.94L1759.34,495.28L1759.65,495.59L1759.96,495.88L1760.27,496.13L1760.59,496.36L1760.90,496.56L1761.21,496.72L1761.52,496.86L1761.83,496.97L1762.14,497.05L1762.45,497.11L1762.76,497.13L1763.07,497.12L1763.38,497.09L1763.69,497.02L1764.00,496.93L1764.32,496.80L1764.63,496.65L1764.94,496.47L1765.25,496.26L1765.56,496.02L1765.87,495.76L1766.18,495.46L1766.49,495.14L1766.80,494.79L1767.11,494.41L1767.42,494.00L1767.73,493.57L1768.05,493.10L1768.36,492.61L1768.67,492.10L1768.98,491.56L1769.29,490.99L1769.60,490.39L1769.91,489.77L1770.22,489.13L1770.53,488.46L1770.84,487.77L1771.15,487.05L1771.46,486.31L1771.78,485.54L1772.09,484.76L1772.40,483.95L1772.71,483.12L1773.02,482.27L1773.33,481.40L1773.64,480.51L1773.95,479.61L1774.26,478.68L1774.57,477.74L1774.88,476.79L1775.19,475.81L1775.51,474.83L1775.82,473.83L1776.13,472.82L1776.44,471.80L1776.75,470.77L1777.06,469.73L1777.37,468.69L1777.68,467.64L1777.99,466.59L1778.30,465.53L1778.61,464.47L1778.93,463.42L1779.24,462.36L1779.55,461.32L1779.86,460.27L1780.17,459.24L1780.48,458.21L1780.79,457.19L1781.10,456.19L1781.41,455.21L1781.72,454.24L1782.03,453.29L1782.34,452.36L1782.66,451.46L1782.97,450.58L1783.28,449.73L1783.59,448.91L1783.90,448.12L1784.21,447.37L1784.52,446.65L1784.83,445.97L1785.14,445.33L1785.45,444.73L1785.76,444.17L1786.07,443.66L1786.39,443.19L1786.70,442.78L1787.01,442.41L1787.32,442.09L1787.63,441.82L1787.94,441.61L1788.25,441.44L1788.56,441.33L1788.86,441.28L1788.87,441.28L1788.95,441.27L1789.00,441.27L1789.04,441.27L1789.09,441.27L1789.14,441.27L1789.18,441.28L1789.23,441.28L1789.49,441.33L1789.80,441.43L1790.12,441.59L1790.43,441.80L1790.74,442.06L1791.05,442.38L1791.36,442.74L1791.67,443.15L1791.98,443.62L1792.29,444.12L1792.60,444.68L1792.91,445.27L1793.22,445.91L1793.53,446.59L1793.85,447.31L1794.16,448.06L1794.47,448.85L1794.78,449.66L1795.09,450.51L1795.40,451.39L1795.71,452.30L1796.02,453.22L1796.33,454.17L1796.64,455.14L1796.95,456.13L1797.27,457.13L1797.58,458.15L1797.89,459.18L1798.20,460.22L1798.51,461.26L1798.82,462.32L1799.13,463.38L1799.44,464.44L1799.75,465.50L1800.06,466.56L1800.37,467.62L1800.68,468.67L1801.00,469.72L1801.31,470.77L1801.62,471.81L1801.93,472.83L1802.24,473.85L1802.55,474.86L1802.86,475.85L1803.17,476.83L1803.48,477.80L1803.79,478.75L1804.10,479.69L1804.41,480.60L1804.73,481.51L1805.04,482.39L1805.35,483.25L1805.66,484.09L1805.97,484.91L1806.28,485.71L1806.59,486.49L1806.90,487.25L1807.21,487.98L1807.52,488.69L1807.83,489.38L1808.14,490.04L1808.46,490.68L1808.77,491.30L1809.08,491.88L1809.39,492.45L1809.70,492.98L1810.01,493.49L1810.32,493.98L1810.63,494.44L1810.94,494.87L1811.25,495.27L1811.56,495.65L1811.87,496.00L1812.19,496.32L1812.50,496.61L1812.81,496.88L1813.12,497.12L1813.43,497.33L1813.74,497.52L1814.05,497.67L1814.36,497.80L1814.67,497.90L1814.98,497.97L1815.29,498.01L1815.61,498.03L1815.92,498.02L1816.23,497.98L1816.54,497.91L1816.85,497.81L1817.16,497.69L1817.47,497.54L1817.78,497.36L1818.09,497.15L1818.40,496.91L1818.71,496.65L1819.02,496.36L1819.34,496.05L1819.65,495.70L1819.96,495.33L1820.27,494.94L1820.58,494.52L1820.89,494.07L1821.20,493.60L1821.51,493.10L1821.82,492.57L1822.13,492.02L1822.44,491.45L1822.75,490.85L1823.07,490.23L1823.38,489.59L1823.69,488.92L1824.00,488.23L1824.31,487.52L1824.62,486.78L1824.93,486.03L1825.24,485.26L1825.55,484.46L1825.86,483.65L1826.17,482.82L1826.48,481.97L1826.80,481.10L1827.11,480.22L1827.42,479.33L1827.73,478.42L1828.04,477.49L1828.35,476.56L1828.66,475.61L1828.97,474.65L1829.28,473.69L1829.59,472.71L1829.90,471.73L1830.21,470.75L1830.53,469.76L1830.84,468.77L1831.15,467.77L1831.46,466.78L1831.77,465.79L1832.08,464.80L1832.39,463.82L1832.70,462.84L1833.01,461.87L1833.32,460.92L1833.63,459.97L1833.95,459.04L1834.26,458.12L1834.57,457.22L1834.88,456.35L1835.19,455.49L1835.50,454.65L1835.81,453.84L1836.12,453.06L1836.43,452.31L1836.74,451.59L1837.05,450.90L1837.36,450.24L1837.68,449.62L1837.99,449.04L1838.30,448.50L1838.61,447.99L1838.92,447.53L1839.23,447.12L1839.54,446.75L1839.85,446.42L1840.16,446.14L1840.47,445.91L1840.78,445.73L1841.09,445.59L1841.41,445.51L1841.60,445.48L1841.69,445.47L1841.72,445.47L1841.74,445.47L1841.79,445.47L1841.83,445.47L1841.88,445.47L1841.97,445.48L1842.03,445.48L1842.34,445.55L1842.65,445.66L1842.96,445.82L1843.27,446.03L1843.58,446.29L1843.89,446.60L1844.20,446.95L1844.51,447.34L1844.82,447.79L1845.14,448.27L1845.45,448.79L1845.76,449.36L1846.07,449.96L1846.38,450.60L1846.69,451.28L1847.00,451.99L1847.31,452.73L1847.62,453.50L1847.93,454.30L1848.24,455.13L1848.55,455.98L1848.87,456.85L1849.18,457.74L1849.49,458.65L1849.80,459.58L1850.11,460.52L1850.42,461.48L1850.73,462.44L1851.04,463.42L1851.35,464.40L1851.66,465.39L1851.97,466.39L1852.29,467.39L1852.60,468.38L1852.91,469.38L1853.22,470.38L1853.53,471.37L1853.84,472.36L1854.15,473.35L1854.46,474.32L1854.77,475.29L1855.08,476.25L1855.39,477.20L1855.70,478.14L1856.02,479.06L1856.33,479.98L1856.64,480.87L1856.95,481.76L1857.26,482.62L1857.57,483.47L1857.88,484.31L1858.19,485.12L1858.50,485.92L1858.81,486.69L1859.12,487.45L1859.43,488.19L1859.75,488.90L1860.06,489.59L1860.37,490.26L1860.68,490.91L1860.99,491.54L1861.30,492.14L1861.61,492.72L1861.92,493.28L1862.23,493.81L1862.54,494.31L1862.85,494.80L1863.16,495.25L1863.48,495.68L1863.79,496.09L1864.10,496.47L1864.41,496.82L1864.72,497.15L1865.03,497.45L1865.34,497.73L1865.65,497.98L1865.96,498.20L1866.27,498.40L1866.58,498.57L1866.89,498.71L1867.21,498.83L1867.52,498.92L1867.83,498.98L1868.14,499.02L1868.45,499.03L1868.76,499.01L1869.07,498.97L1869.38,498.90L1869.69,498.80L1870.00,498.68L1870.31,498.53L1870.63,498.35L1870.94,498.15L1871.25,497.92L1871.56,497.66L1871.87,497.38L1872.18,497.08L1872.49,496.74L1872.80,496.39L1873.11,496.00L1873.42,495.60L1873.73,495.17L1874.04,494.71L1874.36,494.23L1874.67,493.73L1874.98,493.20L1875.29,492.65L1875.60,492.08L1875.91,491.48L1876.22,490.87L1876.53,490.23L1876.84,489.57L1877.15,488.89L1877.46,488.19L1877.77,487.47L1878.09,486.74L1878.40,485.98L1878.71,485.21L1879.02,484.42L1879.33,483.62L1879.64,482.80L1879.95,481.97L1880.26,481.12L1880.57,480.26L1880.88,479.39L1881.19,478.51L1881.50,477.62L1881.82,476.72L1882.13,475.81L1882.44,474.90L1882.75,473.98L1883.06,473.05L1883.37,472.13L1883.68,471.20L1883.99,470.28L1884.30,469.35L1884.61,468.43L1884.92,467.51L1885.23,466.60L1885.55,465.69L1885.86,464.80L1886.17,463.91L1886.48,463.04L1886.79,462.18L1887.10,461.34L1887.41,460.52L1887.72,459.71L1888.03,458.92L1888.34,458.16L1888.65,457.42L1888.97,456.71L1889.28,456.03L1889.59,455.37L1889.90,454.75L1890.21,454.16L1890.52,453.60L1890.83,453.08L1891.14,452.59L1891.45,452.14L1891.76,451.73L1892.07,451.36L1892.38,451.04L1892.70,450.75L1893.01,450.51L1893.32,450.31L1893.63,450.16L1893.94,450.05L1894.25,449.99L1894.34,449.98L1894.44,449.97L1894.49,449.97L1894.53,449.97L1894.56,449.97L1894.57,449.97L1894.62,449.97L1894.72,449.98L1894.87,450.00L1895.18,450.07L1895.49,450.19L1895.80,450.35L1896.11,450.56L1896.43,450.80L1896.74,451.10L1897.05,451.43L1897.36,451.81L1897.67,452.23L1897.98,452.68L1898.29,453.17L1898.60,453.70L1898.91,454.27L1899.22,454.87L1899.53,455.50L1899.84,456.16L1900.16,456.85L1900.47,457.57L1900.78,458.31L1901.09,459.08L1901.40,459.87L1901.71,460.68L1902.02,461.51L1902.33,462.36L1902.64,463.22L1902.95,464.09L1903.26,464.98L1903.57,465.88L1903.89,466.79L1904.20,467.71L1904.51,468.63L1904.82,469.55L1905.13,470.48L1905.44,471.41L1905.75,472.34L1906.06,473.27L1906.37,474.20L1906.68,475.12L1906.99,476.04L1907.31,476.95L1907.62,477.86L1907.93,478.75L1908.24,479.64L1908.55,480.51L1908.86,481.38L1909.17,482.23L1909.48,483.07L1909.79,483.90L1910.10,484.71L1910.41,485.50L1910.72,486.28L1911.04,487.05L1911.35,487.79L1911.66,488.52L1911.97,489.23L1912.28,489.92L1912.59,490.59L1912.90,491.24L1913.21,491.87L1913.52,492.47L1913.83,493.06L1914.14,493.63L1914.45,494.17L1914.77,494.69L1915.08,495.19L1915.39,495.66L1915.70,496.11L1916.01,496.54L1916.32,496.94L1916.63,497.32L1916.94,497.67L1917.25,498.01L1917.56,498.31L1917.87,498.59L1918.18,498.85L1918.50,499.08L1918.81,499.29L1919.12,499.47L1919.43,499.62L1919.74,499.75L1920.05,499.86L1920.36,499.94L1920.67,500.00L1920.98,500.02L1921.29,500.03L1921.60,500.01L1921.91,499.96L1922.23,499.89L1922.54,499.79L1922.85,499.67L1923.16,499.52L1923.47,499.35L1923.78,499.15L1924.09,498.93L1924.40,498.68L1924.71,498.41L1925.02,498.12L1925.33,497.80L1925.65,497.46L1925.96,497.09L1926.27,496.70L1926.58,496.29L1926.89,495.85L1927.20,495.39L1927.51,494.91L1927.82,494.41L1928.13,493.89L1928.44,493.34L1928.75,492.78L1929.06,492.19L1929.38,491.58L1929.69,490.96L1930.00,490.32L1930.31,489.65L1930.62,488.97L1930.93,488.28L1931.24,487.56L1931.55,486.83L1931.86,486.09L1932.17,485.33L1932.48,484.56L1932.79,483.77L1933.11,482.98L1933.42,482.17L1933.73,481.35L1934.04,480.52L1934.35,479.68L1934.66,478.84L1934.97,477.99L1935.28,477.14L1935.59,476.28L1935.90,475.41L1936.21,474.55L1936.52,473.69L1936.84,472.82L1937.15,471.96L1937.46,471.10L1937.77,470.25L1938.08,469.41L1938.39,468.57L1938.70,467.74L1939.01,466.92L1939.32,466.12L1939.63,465.32L1939.94,464.55L1940.25,463.79L1940.57,463.05L1940.88,462.33L1941.19,461.63L1941.50,460.95L1941.81,460.30L1942.12,459.68L1942.43,459.08L1942.74,458.51L1943.05,457.98L1943.36,457.47L1943.67,457.00L1943.99,456.56L1944.30,456.16L1944.61,455.79L1944.92,455.46L1945.23,455.17L1945.54,454.92L1945.85,454.71L1946.16,454.54L1946.47,454.41L1946.78,454.32L1947.09,454.28L1947.10,454.28L1947.19,454.27L1947.24,454.27L1947.29,454.27L1947.33,454.27L1947.38,454.27L1947.40,454.27L1947.47,454.28L1947.72,454.31L1948.03,454.39L1948.34,454.51L1948.65,454.67L1948.96,454.87L1949.27,455.11L1949.58,455.40L1949.89,455.72L1950.20,456.07L1950.51,456.47L1950.82,456.90L1951.13,457.37L1951.45,457.87L1951.76,458.40L1952.07,458.96L1952.38,459.55L1952.69,460.18L1953.00,460.82L1953.31,461.50L1953.62,462.20L1953.93,462.92L1954.24,463.66L1954.55,464.42L1954.86,465.20L1955.18,465.99L1955.49,466.80L1955.80,467.63L1956.11,468.46L1956.42,469.31L1956.73,470.16L1957.04,471.02L1957.35,471.89L1957.66,472.76L1957.97,473.63L1958.28,474.51L1958.59,475.38L1958.91,476.26L1959.22,477.13L1959.53,478.00L1959.84,478.87L1960.15,479.73L1960.46,480.58L1960.77,481.42L1961.08,482.26L1961.39,483.09L1961.70,483.91L1962.01,484.71L1962.33,485.51L1962.64,486.29L1962.95,487.06L1963.26,487.81L1963.57,488.55L1963.88,489.27L1964.19,489.97L1964.50,490.66L1964.81,491.33L1965.12,491.99L1965.43,492.62L1965.74,493.24L1966.06,493.83L1966.37,494.41L1966.68,494.97L1966.99,495.50L1967.30,496.02L1967.61,496.51L1967.92,496.98L1968.23,497.43L1968.54,497.85L1968.85,498.26L1969.16,498.64L1969.47,499.00L1969.79,499.33L1970.10,499.65L1970.41,499.94L1970.72,500.20L1971.03,500.44L1971.34,500.66L1971.65,500.85L1971.96,501.02L1972.27,501.17L1972.58,501.29L1972.89,501.38L1973.20,501.46L1973.52,501.50L1973.83,501.53L1974.14,501.53L1974.45,501.50L1974.76,501.45L1975.07,501.38L1975.38,501.28L1975.69,501.16L1976.00,501.01L1976.31,500.85L1976.62,500.65L1976.93,500.44L1977.25,500.19L1977.56,499.93L1977.87,499.64L1978.18,499.34L1978.49,499.00L1978.80,498.65L1979.11,498.27L1979.42,497.87L1979.73,497.45L1980.04,497.01L1980.35,496.55L1980.67,496.06L1980.98,495.56L1981.29,495.04L1981.60,494.49L1981.91,493.93L1982.22,493.35L1982.53,492.75L1982.84,492.14L1983.15,491.50L1983.46,490.85L1983.77,490.19L1984.08,489.51L1984.40,488.81L1984.71,488.10L1985.02,487.38L1985.33,486.64L1985.64,485.90L1985.95,485.14L1986.26,484.37L1986.57,483.60L1986.88,482.81L1987.19,482.02L1987.50,481.22L1987.81,480.42L1988.13,479.61L1988.44,478.80L1988.75,477.99L1989.06,477.18L1989.37,476.37L1989.68,475.56L1989.99,474.75L1990.30,473.95L1990.61,473.15L1990.92,472.36L1991.23,471.57L1991.54,470.80L1991.86,470.04L1992.17,469.29L1992.48,468.56L1992.79,467.84L1993.10,467.13L1993.41,466.45L1993.72,465.78L1994.03,465.14L1994.34,464.52L1994.65,463.92L1994.96,463.35L1995.27,462.80L1995.59,462.28L1995.90,461.79L1996.21,461.34L1996.52,460.91L1996.83,460.51L1997.14,460.15L1997.45,459.82L1997.76,459.53L1998.07,459.27L1998.38,459.05L1998.69,458.87L1999.01,458.73L1999.32,458.62L1999.63,458.55L1999.84,458.53L1999.93,458.52L1999.94,458.52L1999.98,458.52L2000.02,458.52L2000.07,458.52L2000.12,458.52L2000.21,458.53L2000.25,458.53L2000.56,458.58L2000.87,458.66L2001.18,458.79L2001.49,458.95L2001.80,459.15L2002.11,459.38L2002.42,459.66L2002.74,459.96L2003.05,460.31L2003.36,460.68L2003.67,461.09L2003.98,461.54L2004.29,462.01L2004.60,462.51L2004.91,463.04L2005.22,463.60L2005.53,464.19L2005.84,464.80L2006.15,465.43L2006.47,466.08L2006.78,466.76L2007.09,467.45L2007.40,468.17L2007.71,468.90L2008.02,469.64L2008.33,470.40L2008.64,471.17L2008.95,471.95L2009.26,472.74L2009.57,473.54L2009.88,474.34L2010.20,475.15L2010.51,475.97L2010.82,476.79L2011.13,477.60L2011.44,478.42L2011.75,479.24L2012.06,480.06L2012.37,480.87L2012.68,481.68L2012.99,482.48L2013.30,483.28L2013.61,484.07L2013.93,484.86L2014.24,485.63L2014.55,486.39L2014.86,487.15L2015.17,487.89L2015.48,488.62L2015.79,489.34L2016.10,490.04L2016.41,490.73L2016.72,491.41L2017.03,492.06L2017.35,492.71L2017.66,493.33L2017.97,493.94L2018.28,494.54L2018.59,495.11L2018.90,495.67L2019.21,496.20L2019.52,496.72L2019.83,497.22L2020.14,497.70L2020.45,498.15L2020.76,498.59L2021.08,499.01L2021.39,499.40L2021.70,499.78L2022.01,500.13L2022.32,500.46L2022.63,500.77L2022.94,501.06L2023.25,501.32L2023.56,501.56L2023.87,501.78L2024.18,501.98L2024.49,502.15L2024.81,502.30L2025.12,502.43L2025.43,502.54L2025.74,502.62L2026.05,502.68L2026.36,502.72L2026.67,502.73L2026.98,502.72L2027.29,502.70L2027.60,502.65L2027.91,502.58L2028.22,502.48L2028.54,502.36L2028.85,502.22L2029.16,502.06L2029.47,501.87L2029.78,501.67L2030.09,501.44L2030.40,501.19L2030.71,500.91L2031.02,500.62L2031.33,500.30L2031.64,499.97L2031.95,499.61L2032.27,499.23L2032.58,498.84L2032.89,498.42L2033.20,497.98L2033.51,497.53L2033.82,497.05L2034.13,496.56L2034.44,496.05L2034.75,495.52L2035.06,494.97L2035.37,494.41L2035.69,493.83L2036.00,493.24L2036.31,492.63L2036.62,492.00L2036.93,491.37L2037.24,490.72L2037.55,490.05L2037.86,489.38L2038.17,488.69L2038.48,488.00L2038.79,487.29L2039.10,486.58L2039.42,485.86L2039.73,485.13L2040.04,484.39L2040.35,483.65L2040.66,482.91L2040.97,482.16L2041.28,481.41L2041.59,480.66L2041.90,479.91L2042.21,479.17L2042.52,478.42L2042.83,477.68L2043.15,476.94L2043.46,476.21L2043.77,475.48L2044.08,474.77L2044.39,474.06L2044.70,473.36L2045.01,472.68L2045.32,472.01L2045.63,471.36L2045.94,470.72L2046.25,470.10L2046.56,469.49L2046.88,468.91L2047.19,468.35L2047.50,467.81L2047.81,467.30L2048.12,466.81L2048.43,466.34L2048.74,465.90L2049.05,465.50L2049.36,465.12L2049.67,464.77L2049.98,464.45L2050.29,464.16L2050.61,463.90L2050.92,463.68L2051.23,463.49L2051.54,463.34L2051.85,463.22L2052.16,463.13L2052.47,463.08L2052.57,463.08L2052.66,463.07L2052.71,463.07L2052.76,463.07L2052.78,463.07L2052.80,463.07L2052.85,463.07L2052.94,463.08L2053.09,463.09L2053.40,463.15L2053.71,463.24L2054.03,463.36L2054.34,463.52L2054.65,463.72L2054.96,463.95L2055.27,464.21L2055.58,464.50L2055.89,464.83L2056.20,465.19L2056.51,465.57L2056.82,465.99L2057.13,466.44L2057.44,466.91L2057.76,467.41L2058.07,467.93L2058.38,468.48L2058.69,469.05L2059.00,469.64L2059.31,470.26L2059.62,470.89L2059.93,471.54L2060.24,472.21L2060.55,472.89L2060.86,473.59L2061.17,474.29L2061.49,475.02L2061.80,475.75L2062.11,476.49L2062.42,477.23L2062.73,477.99L2063.04,478.75L2063.35,479.51L2063.66,480.28L2063.97,481.04L2064.28,481.81L2064.59,482.58L2064.90,483.35L2065.22,484.11L2065.53,484.87L2065.84,485.63L2066.15,486.38L2066.46,487.13L2066.77,487.86L2067.08,488.59L2067.39,489.31L2067.70,490.02L2068.01,490.72L2068.32,491.41L2068.63,492.09L2068.95,492.76L2069.26,493.41L2069.57,494.04L2069.88,494.67L2070.19,495.28L2070.50,495.87" stroke="#0f0" stroke-width="8.33"/>
<text class="tk" transform="translate(236.50,1360.00) scale(0.93,1)" text-anchor="middle">50</text>
<text class="tk" transform="translate(516.26,1360.00) scale(0.93,1)" text-anchor="middle">500</text>
<text class="tk" transform="translate(827.11,1360.00) scale(0.93,1)" text-anchor="middle">1000</text>
<text class="tk" transform="translate(1137.96,1360.00) scale(0.93,1)" text-anchor="middle">1500</text>
<text class="tk" transform="translate(1448.81,1360.00) scale(0.93,1)" text-anchor="middle">2000</text>
<text class="tk" transform="translate(1759.65,1360.00) scale(0.93,1)" text-anchor="middle">2500</text>
<text class="tk" transform="translate(2070.50,1360.00) scale(0.93,1)" text-anchor="middle">3000</text>
<text class="tk" transform="translate(214.50,1297.00) scale(0.93,1)" text-anchor="end">70</text>
<text class="tk" transform="translate(214.50,1091.00) scale(0.93,1)" text-anchor="end">75</text>
<text class="tk" transform="translate(214.50,885.00) scale(0.93,1)" text-anchor="end">80</text>
<text class="tk" transform="translate(214.50,679.00) scale(0.93,1)" text-anchor="end">85</text>
<text class="tk" transform="translate(214.50,473.00) scale(0.93,1)" text-anchor="end">90</text>
<text class="tk" transform="translate(214.50,267.00) scale(0.93,1)" text-anchor="end">95</text>
<text class="tk" transform="translate(214.50,61.00) scale(0.93,1)" text-anchor="end">100</text>
<text class="lb" transform="translate(1153.00,1453.60)" text-anchor="middle">Frequency (<tspan font-family="'DejaVu Sans',sans-serif" font-style="italic" font-size="64">ω</tspan>)</text>
<text class="lb" transform="translate(76.5,653.5) rotate(-90)" text-anchor="middle">Energy Density (dB)</text>
<path d="M1639,117.8H1749" stroke="#000" stroke-width="9" shape-rendering="crispEdges"/>
<path d="M1639,202.6H1749" stroke="#0f0" stroke-width="9" shape-rendering="crispEdges"/>
<text class="lg" transform="translate(1757.50,144.70) scale(0.962,1)" text-anchor="start">averaged</text>
<text class="lg" transform="translate(1757.50,229.60) scale(0.962,1)" text-anchor="start">exact</text>
</svg>
</body></html>
